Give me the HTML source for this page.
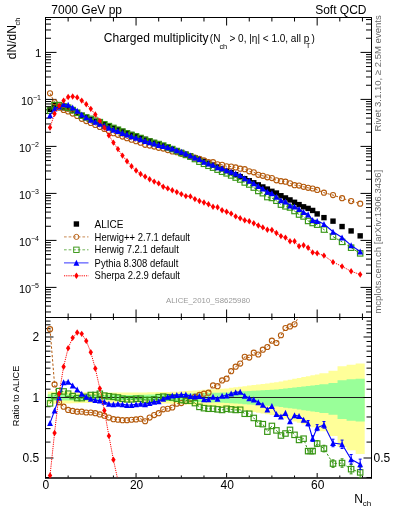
<!DOCTYPE html>
<html><head><meta charset="utf-8"><style>
html,body{margin:0;padding:0;background:#fff;width:393px;height:512px;overflow:hidden}
svg{position:absolute;left:0;top:0;will-change:transform}
text{font-family:"Liberation Sans",sans-serif}
</style></head><body>
<svg width="393" height="512" viewBox="0 0 393 512">
<defs><clipPath id="ct"><rect x="45.5" y="17.5" width="326.0" height="300.0"/></clipPath><clipPath id="cr"><rect x="45.5" y="317.5" width="326.0" height="160.0"/></clipPath></defs>
<g clip-path="url(#cr)"><path d="M47.76,391.59 L52.29,391.59 L52.29,391.68 L56.82,391.68 L56.82,391.78 L61.35,391.78 L61.35,391.87 L65.88,391.87 L65.88,391.96 L70.40,391.96 L70.40,392.05 L74.93,392.05 L74.93,392.14 L79.46,392.14 L79.46,392.23 L83.99,392.23 L83.99,392.32 L88.51,392.32 L88.51,392.41 L93.04,392.41 L93.04,392.43 L97.57,392.43 L97.57,392.45 L102.10,392.45 L102.10,392.46 L106.62,392.46 L106.62,392.48 L111.15,392.48 L111.15,392.50 L115.68,392.50 L115.68,392.51 L120.21,392.51 L120.21,392.53 L124.74,392.53 L124.74,392.55 L129.26,392.55 L129.26,392.56 L133.79,392.56 L133.79,392.58 L138.32,392.58 L138.32,392.48 L142.85,392.48 L142.85,392.38 L147.38,392.38 L147.38,392.28 L151.90,392.28 L151.90,392.18 L156.43,392.18 L156.43,392.08 L160.96,392.08 L160.96,391.98 L165.49,391.98 L165.49,391.88 L170.01,391.88 L170.01,391.78 L174.54,391.78 L174.54,391.68 L179.07,391.68 L179.07,391.37 L183.60,391.37 L183.60,391.07 L188.12,391.07 L188.12,390.77 L192.65,390.77 L192.65,390.47 L197.18,390.47 L197.18,390.17 L201.71,390.17 L201.71,389.87 L206.24,389.87 L206.24,389.57 L210.76,389.57 L210.76,389.27 L215.29,389.27 L215.29,388.98 L219.82,388.98 L219.82,388.68 L224.35,388.68 L224.35,388.39 L228.88,388.39 L228.88,387.82 L233.40,387.82 L233.40,387.25 L237.93,387.25 L237.93,386.69 L242.46,386.69 L242.46,386.13 L246.99,386.13 L246.99,385.58 L251.51,385.58 L251.51,385.02 L256.04,385.02 L256.04,384.48 L260.57,384.48 L260.57,383.93 L265.10,383.93 L265.10,383.39 L269.62,383.39 L269.62,382.85 L274.15,382.85 L274.15,382.32 L278.68,382.32 L278.68,381.41 L283.21,381.41 L283.21,380.52 L287.74,380.52 L287.74,379.63 L292.26,379.63 L292.26,378.76 L296.79,378.76 L296.79,377.89 L301.32,377.89 L301.32,377.03 L305.85,377.03 L305.85,376.18 L310.38,376.18 L310.38,375.34 L314.90,375.34 L314.90,374.50 L319.43,374.50 L319.43,373.26 L328.49,373.26 L328.49,370.85 L337.54,370.85 L337.54,366.16 L346.60,366.16 L346.60,364.82 L355.65,364.82 L355.65,363.45 L364.71,363.45 L364.71,454.08 L355.65,454.08 L355.65,450.32 L346.60,450.32 L346.60,446.88 L337.54,446.88 L337.54,436.05 L328.49,436.05 L328.49,431.17 L319.43,431.17 L319.43,428.81 L314.90,428.81 L314.90,427.28 L310.38,427.28 L310.38,425.77 L305.85,425.77 L305.85,424.29 L301.32,424.29 L301.32,422.83 L296.79,422.83 L296.79,421.40 L292.26,421.40 L292.26,419.99 L287.74,419.99 L287.74,418.60 L283.21,418.60 L283.21,417.24 L278.68,417.24 L278.68,415.89 L274.15,415.89 L274.15,415.11 L269.62,415.11 L269.62,414.34 L265.10,414.34 L265.10,413.57 L260.57,413.57 L260.57,412.81 L256.04,412.81 L256.04,412.06 L251.51,412.06 L251.51,411.31 L246.99,411.31 L246.99,410.57 L242.46,410.57 L242.46,409.84 L237.93,409.84 L237.93,409.11 L233.40,409.11 L233.40,408.39 L228.88,408.39 L228.88,407.67 L224.35,407.67 L224.35,407.31 L219.82,407.31 L219.82,406.94 L215.29,406.94 L215.29,406.58 L210.76,406.58 L210.76,406.22 L206.24,406.22 L206.24,405.86 L201.71,405.86 L201.71,405.51 L197.18,405.51 L197.18,405.15 L192.65,405.15 L192.65,404.80 L188.12,404.80 L188.12,404.44 L183.60,404.44 L183.60,404.09 L179.07,404.09 L179.07,403.74 L174.54,403.74 L174.54,403.63 L170.01,403.63 L170.01,403.51 L165.49,403.51 L165.49,403.40 L160.96,403.40 L160.96,403.28 L156.43,403.28 L156.43,403.17 L151.90,403.17 L151.90,403.06 L147.38,403.06 L147.38,402.94 L142.85,402.94 L142.85,402.83 L138.32,402.83 L138.32,402.72 L133.79,402.72 L133.79,402.73 L129.26,402.73 L129.26,402.75 L124.74,402.75 L124.74,402.77 L120.21,402.77 L120.21,402.79 L115.68,402.79 L115.68,402.81 L111.15,402.81 L111.15,402.83 L106.62,402.83 L106.62,402.85 L102.10,402.85 L102.10,402.86 L97.57,402.86 L97.57,402.88 L93.04,402.88 L93.04,402.90 L88.51,402.90 L88.51,403.00 L83.99,403.00 L83.99,403.11 L79.46,403.11 L79.46,403.21 L74.93,403.21 L74.93,403.32 L70.40,403.32 L70.40,403.42 L65.88,403.42 L65.88,403.52 L61.35,403.52 L61.35,403.63 L56.82,403.63 L56.82,403.73 L52.29,403.73 L52.29,403.83 L47.76,403.83 Z" fill="#ffff99"/>
<path d="M47.76,394.33 L52.29,394.33 L52.29,394.39 L56.82,394.39 L56.82,394.46 L61.35,394.46 L61.35,394.53 L65.88,394.53 L65.88,394.59 L70.40,394.59 L70.40,394.66 L74.93,394.66 L74.93,394.72 L79.46,394.72 L79.46,394.79 L83.99,394.79 L83.99,394.85 L88.51,394.85 L88.51,394.92 L93.04,394.92 L93.04,394.93 L97.57,394.93 L97.57,394.94 L102.10,394.94 L102.10,394.95 L106.62,394.95 L106.62,394.95 L111.15,394.95 L111.15,394.96 L115.68,394.96 L115.68,394.97 L120.21,394.97 L120.21,394.98 L124.74,394.98 L124.74,394.99 L129.26,394.99 L129.26,395.00 L133.79,395.00 L133.79,395.00 L138.32,395.00 L138.32,394.87 L142.85,394.87 L142.85,394.74 L147.38,394.74 L147.38,394.61 L151.90,394.61 L151.90,394.48 L156.43,394.48 L156.43,394.35 L160.96,394.35 L160.96,394.22 L165.49,394.22 L165.49,394.09 L170.01,394.09 L170.01,393.96 L174.54,393.96 L174.54,393.82 L179.07,393.82 L179.07,393.70 L183.60,393.70 L183.60,393.57 L188.12,393.57 L188.12,393.44 L192.65,393.44 L192.65,393.31 L197.18,393.31 L197.18,393.18 L201.71,393.18 L201.71,393.05 L206.24,393.05 L206.24,392.92 L210.76,392.92 L210.76,392.80 L215.29,392.80 L215.29,392.67 L219.82,392.67 L219.82,392.54 L224.35,392.54 L224.35,392.41 L228.88,392.41 L228.88,392.14 L233.40,392.14 L233.40,391.86 L237.93,391.86 L237.93,391.59 L242.46,391.59 L242.46,391.31 L246.99,391.31 L246.99,391.04 L251.51,391.04 L251.51,390.77 L256.04,390.77 L256.04,390.50 L260.57,390.50 L260.57,390.23 L265.10,390.23 L265.10,389.96 L269.62,389.96 L269.62,389.69 L274.15,389.69 L274.15,389.42 L278.68,389.42 L278.68,388.92 L283.21,388.92 L283.21,388.42 L287.74,388.42 L287.74,387.93 L292.26,387.93 L292.26,387.44 L296.79,387.44 L296.79,386.95 L301.32,386.95 L301.32,386.47 L305.85,386.47 L305.85,385.99 L310.38,385.99 L310.38,385.51 L314.90,385.51 L314.90,385.03 L319.43,385.03 L319.43,384.32 L328.49,384.32 L328.49,383.05 L337.54,383.05 L337.54,380.28 L346.60,380.28 L346.60,379.22 L355.65,379.22 L355.65,378.65 L364.71,378.65 L364.71,421.57 L355.65,421.57 L355.65,420.66 L346.60,420.66 L346.60,418.97 L337.54,418.97 L337.54,414.82 L328.49,414.82 L328.49,413.03 L319.43,413.03 L319.43,412.05 L314.90,412.05 L314.90,411.41 L310.38,411.41 L310.38,410.77 L305.85,410.77 L305.85,410.13 L301.32,410.13 L301.32,409.50 L296.79,409.50 L296.79,408.87 L292.26,408.87 L292.26,408.25 L287.74,408.25 L287.74,407.63 L283.21,407.63 L283.21,407.02 L278.68,407.02 L278.68,406.41 L274.15,406.41 L274.15,406.08 L269.62,406.08 L269.62,405.76 L265.10,405.76 L265.10,405.44 L260.57,405.44 L260.57,405.12 L256.04,405.12 L256.04,404.80 L251.51,404.80 L251.51,404.48 L246.99,404.48 L246.99,404.16 L242.46,404.16 L242.46,403.84 L237.93,403.84 L237.93,403.53 L233.40,403.53 L233.40,403.21 L228.88,403.21 L228.88,402.90 L224.35,402.90 L224.35,402.76 L219.82,402.76 L219.82,402.61 L215.29,402.61 L215.29,402.47 L210.76,402.47 L210.76,402.33 L206.24,402.33 L206.24,402.19 L201.71,402.19 L201.71,402.04 L197.18,402.04 L197.18,401.90 L192.65,401.90 L192.65,401.76 L188.12,401.76 L188.12,401.62 L183.60,401.62 L183.60,401.48 L179.07,401.48 L179.07,401.34 L174.54,401.34 L174.54,401.19 L170.01,401.19 L170.01,401.05 L165.49,401.05 L165.49,400.91 L160.96,400.91 L160.96,400.77 L156.43,400.77 L156.43,400.63 L151.90,400.63 L151.90,400.49 L147.38,400.49 L147.38,400.35 L142.85,400.35 L142.85,400.21 L138.32,400.21 L138.32,400.07 L133.79,400.07 L133.79,400.08 L129.26,400.08 L129.26,400.09 L124.74,400.09 L124.74,400.10 L120.21,400.10 L120.21,400.10 L115.68,400.10 L115.68,400.11 L111.15,400.11 L111.15,400.12 L106.62,400.12 L106.62,400.13 L102.10,400.13 L102.10,400.14 L97.57,400.14 L97.57,400.15 L93.04,400.15 L93.04,400.16 L88.51,400.16 L88.51,400.23 L83.99,400.23 L83.99,400.30 L79.46,400.30 L79.46,400.37 L74.93,400.37 L74.93,400.44 L70.40,400.44 L70.40,400.51 L65.88,400.51 L65.88,400.58 L61.35,400.58 L61.35,400.65 L56.82,400.65 L56.82,400.72 L52.29,400.72 L52.29,400.79 L47.76,400.79 Z" fill="#99ff99"/>
<line x1="45.5" y1="397.50" x2="371.5" y2="397.50" stroke="#222" stroke-width="1"/></g>
<line x1="45.50" y1="17.00" x2="45.50" y2="478.30" stroke="#000" stroke-width="1.0" />
<line x1="371.50" y1="17.00" x2="371.50" y2="478.30" stroke="#000" stroke-width="1.0" />
<line x1="45.00" y1="17.50" x2="372.00" y2="17.50" stroke="#000" stroke-width="1.0" />
<line x1="45.00" y1="317.50" x2="372.00" y2="317.50" stroke="#000" stroke-width="1.15" />
<line x1="45.00" y1="478.00" x2="372.00" y2="478.00" stroke="#000" stroke-width="1.3" />
<line x1="45.50" y1="311.98" x2="51.00" y2="311.98" stroke="#000" stroke-width="1.0" />
<line x1="371.50" y1="311.98" x2="366.00" y2="311.98" stroke="#000" stroke-width="1.0" />
<line x1="45.50" y1="306.10" x2="51.00" y2="306.10" stroke="#000" stroke-width="1.0" />
<line x1="371.50" y1="306.10" x2="366.00" y2="306.10" stroke="#000" stroke-width="1.0" />
<line x1="45.50" y1="301.55" x2="51.00" y2="301.55" stroke="#000" stroke-width="1.0" />
<line x1="371.50" y1="301.55" x2="366.00" y2="301.55" stroke="#000" stroke-width="1.0" />
<line x1="45.50" y1="297.83" x2="51.00" y2="297.83" stroke="#000" stroke-width="1.0" />
<line x1="371.50" y1="297.83" x2="366.00" y2="297.83" stroke="#000" stroke-width="1.0" />
<line x1="45.50" y1="294.68" x2="51.00" y2="294.68" stroke="#000" stroke-width="1.0" />
<line x1="371.50" y1="294.68" x2="366.00" y2="294.68" stroke="#000" stroke-width="1.0" />
<line x1="45.50" y1="291.95" x2="51.00" y2="291.95" stroke="#000" stroke-width="1.0" />
<line x1="371.50" y1="291.95" x2="366.00" y2="291.95" stroke="#000" stroke-width="1.0" />
<line x1="45.50" y1="289.55" x2="51.00" y2="289.55" stroke="#000" stroke-width="1.0" />
<line x1="371.50" y1="289.55" x2="366.00" y2="289.55" stroke="#000" stroke-width="1.0" />
<line x1="45.50" y1="287.40" x2="56.50" y2="287.40" stroke="#000" stroke-width="1.0" />
<line x1="371.50" y1="287.40" x2="360.50" y2="287.40" stroke="#000" stroke-width="1.0" />
<line x1="45.50" y1="273.25" x2="51.00" y2="273.25" stroke="#000" stroke-width="1.0" />
<line x1="371.50" y1="273.25" x2="366.00" y2="273.25" stroke="#000" stroke-width="1.0" />
<line x1="45.50" y1="264.98" x2="51.00" y2="264.98" stroke="#000" stroke-width="1.0" />
<line x1="371.50" y1="264.98" x2="366.00" y2="264.98" stroke="#000" stroke-width="1.0" />
<line x1="45.50" y1="259.10" x2="51.00" y2="259.10" stroke="#000" stroke-width="1.0" />
<line x1="371.50" y1="259.10" x2="366.00" y2="259.10" stroke="#000" stroke-width="1.0" />
<line x1="45.50" y1="254.55" x2="51.00" y2="254.55" stroke="#000" stroke-width="1.0" />
<line x1="371.50" y1="254.55" x2="366.00" y2="254.55" stroke="#000" stroke-width="1.0" />
<line x1="45.50" y1="250.83" x2="51.00" y2="250.83" stroke="#000" stroke-width="1.0" />
<line x1="371.50" y1="250.83" x2="366.00" y2="250.83" stroke="#000" stroke-width="1.0" />
<line x1="45.50" y1="247.68" x2="51.00" y2="247.68" stroke="#000" stroke-width="1.0" />
<line x1="371.50" y1="247.68" x2="366.00" y2="247.68" stroke="#000" stroke-width="1.0" />
<line x1="45.50" y1="244.95" x2="51.00" y2="244.95" stroke="#000" stroke-width="1.0" />
<line x1="371.50" y1="244.95" x2="366.00" y2="244.95" stroke="#000" stroke-width="1.0" />
<line x1="45.50" y1="242.55" x2="51.00" y2="242.55" stroke="#000" stroke-width="1.0" />
<line x1="371.50" y1="242.55" x2="366.00" y2="242.55" stroke="#000" stroke-width="1.0" />
<line x1="45.50" y1="240.40" x2="56.50" y2="240.40" stroke="#000" stroke-width="1.0" />
<line x1="371.50" y1="240.40" x2="360.50" y2="240.40" stroke="#000" stroke-width="1.0" />
<line x1="45.50" y1="226.25" x2="51.00" y2="226.25" stroke="#000" stroke-width="1.0" />
<line x1="371.50" y1="226.25" x2="366.00" y2="226.25" stroke="#000" stroke-width="1.0" />
<line x1="45.50" y1="217.98" x2="51.00" y2="217.98" stroke="#000" stroke-width="1.0" />
<line x1="371.50" y1="217.98" x2="366.00" y2="217.98" stroke="#000" stroke-width="1.0" />
<line x1="45.50" y1="212.10" x2="51.00" y2="212.10" stroke="#000" stroke-width="1.0" />
<line x1="371.50" y1="212.10" x2="366.00" y2="212.10" stroke="#000" stroke-width="1.0" />
<line x1="45.50" y1="207.55" x2="51.00" y2="207.55" stroke="#000" stroke-width="1.0" />
<line x1="371.50" y1="207.55" x2="366.00" y2="207.55" stroke="#000" stroke-width="1.0" />
<line x1="45.50" y1="203.83" x2="51.00" y2="203.83" stroke="#000" stroke-width="1.0" />
<line x1="371.50" y1="203.83" x2="366.00" y2="203.83" stroke="#000" stroke-width="1.0" />
<line x1="45.50" y1="200.68" x2="51.00" y2="200.68" stroke="#000" stroke-width="1.0" />
<line x1="371.50" y1="200.68" x2="366.00" y2="200.68" stroke="#000" stroke-width="1.0" />
<line x1="45.50" y1="197.95" x2="51.00" y2="197.95" stroke="#000" stroke-width="1.0" />
<line x1="371.50" y1="197.95" x2="366.00" y2="197.95" stroke="#000" stroke-width="1.0" />
<line x1="45.50" y1="195.55" x2="51.00" y2="195.55" stroke="#000" stroke-width="1.0" />
<line x1="371.50" y1="195.55" x2="366.00" y2="195.55" stroke="#000" stroke-width="1.0" />
<line x1="45.50" y1="193.40" x2="56.50" y2="193.40" stroke="#000" stroke-width="1.0" />
<line x1="371.50" y1="193.40" x2="360.50" y2="193.40" stroke="#000" stroke-width="1.0" />
<line x1="45.50" y1="179.25" x2="51.00" y2="179.25" stroke="#000" stroke-width="1.0" />
<line x1="371.50" y1="179.25" x2="366.00" y2="179.25" stroke="#000" stroke-width="1.0" />
<line x1="45.50" y1="170.98" x2="51.00" y2="170.98" stroke="#000" stroke-width="1.0" />
<line x1="371.50" y1="170.98" x2="366.00" y2="170.98" stroke="#000" stroke-width="1.0" />
<line x1="45.50" y1="165.10" x2="51.00" y2="165.10" stroke="#000" stroke-width="1.0" />
<line x1="371.50" y1="165.10" x2="366.00" y2="165.10" stroke="#000" stroke-width="1.0" />
<line x1="45.50" y1="160.55" x2="51.00" y2="160.55" stroke="#000" stroke-width="1.0" />
<line x1="371.50" y1="160.55" x2="366.00" y2="160.55" stroke="#000" stroke-width="1.0" />
<line x1="45.50" y1="156.83" x2="51.00" y2="156.83" stroke="#000" stroke-width="1.0" />
<line x1="371.50" y1="156.83" x2="366.00" y2="156.83" stroke="#000" stroke-width="1.0" />
<line x1="45.50" y1="153.68" x2="51.00" y2="153.68" stroke="#000" stroke-width="1.0" />
<line x1="371.50" y1="153.68" x2="366.00" y2="153.68" stroke="#000" stroke-width="1.0" />
<line x1="45.50" y1="150.95" x2="51.00" y2="150.95" stroke="#000" stroke-width="1.0" />
<line x1="371.50" y1="150.95" x2="366.00" y2="150.95" stroke="#000" stroke-width="1.0" />
<line x1="45.50" y1="148.55" x2="51.00" y2="148.55" stroke="#000" stroke-width="1.0" />
<line x1="371.50" y1="148.55" x2="366.00" y2="148.55" stroke="#000" stroke-width="1.0" />
<line x1="45.50" y1="146.40" x2="56.50" y2="146.40" stroke="#000" stroke-width="1.0" />
<line x1="371.50" y1="146.40" x2="360.50" y2="146.40" stroke="#000" stroke-width="1.0" />
<line x1="45.50" y1="132.25" x2="51.00" y2="132.25" stroke="#000" stroke-width="1.0" />
<line x1="371.50" y1="132.25" x2="366.00" y2="132.25" stroke="#000" stroke-width="1.0" />
<line x1="45.50" y1="123.98" x2="51.00" y2="123.98" stroke="#000" stroke-width="1.0" />
<line x1="371.50" y1="123.98" x2="366.00" y2="123.98" stroke="#000" stroke-width="1.0" />
<line x1="45.50" y1="118.10" x2="51.00" y2="118.10" stroke="#000" stroke-width="1.0" />
<line x1="371.50" y1="118.10" x2="366.00" y2="118.10" stroke="#000" stroke-width="1.0" />
<line x1="45.50" y1="113.55" x2="51.00" y2="113.55" stroke="#000" stroke-width="1.0" />
<line x1="371.50" y1="113.55" x2="366.00" y2="113.55" stroke="#000" stroke-width="1.0" />
<line x1="45.50" y1="109.83" x2="51.00" y2="109.83" stroke="#000" stroke-width="1.0" />
<line x1="371.50" y1="109.83" x2="366.00" y2="109.83" stroke="#000" stroke-width="1.0" />
<line x1="45.50" y1="106.68" x2="51.00" y2="106.68" stroke="#000" stroke-width="1.0" />
<line x1="371.50" y1="106.68" x2="366.00" y2="106.68" stroke="#000" stroke-width="1.0" />
<line x1="45.50" y1="103.95" x2="51.00" y2="103.95" stroke="#000" stroke-width="1.0" />
<line x1="371.50" y1="103.95" x2="366.00" y2="103.95" stroke="#000" stroke-width="1.0" />
<line x1="45.50" y1="101.55" x2="51.00" y2="101.55" stroke="#000" stroke-width="1.0" />
<line x1="371.50" y1="101.55" x2="366.00" y2="101.55" stroke="#000" stroke-width="1.0" />
<line x1="45.50" y1="99.40" x2="56.50" y2="99.40" stroke="#000" stroke-width="1.0" />
<line x1="371.50" y1="99.40" x2="360.50" y2="99.40" stroke="#000" stroke-width="1.0" />
<line x1="45.50" y1="85.25" x2="51.00" y2="85.25" stroke="#000" stroke-width="1.0" />
<line x1="371.50" y1="85.25" x2="366.00" y2="85.25" stroke="#000" stroke-width="1.0" />
<line x1="45.50" y1="76.98" x2="51.00" y2="76.98" stroke="#000" stroke-width="1.0" />
<line x1="371.50" y1="76.98" x2="366.00" y2="76.98" stroke="#000" stroke-width="1.0" />
<line x1="45.50" y1="71.10" x2="51.00" y2="71.10" stroke="#000" stroke-width="1.0" />
<line x1="371.50" y1="71.10" x2="366.00" y2="71.10" stroke="#000" stroke-width="1.0" />
<line x1="45.50" y1="66.55" x2="51.00" y2="66.55" stroke="#000" stroke-width="1.0" />
<line x1="371.50" y1="66.55" x2="366.00" y2="66.55" stroke="#000" stroke-width="1.0" />
<line x1="45.50" y1="62.83" x2="51.00" y2="62.83" stroke="#000" stroke-width="1.0" />
<line x1="371.50" y1="62.83" x2="366.00" y2="62.83" stroke="#000" stroke-width="1.0" />
<line x1="45.50" y1="59.68" x2="51.00" y2="59.68" stroke="#000" stroke-width="1.0" />
<line x1="371.50" y1="59.68" x2="366.00" y2="59.68" stroke="#000" stroke-width="1.0" />
<line x1="45.50" y1="56.95" x2="51.00" y2="56.95" stroke="#000" stroke-width="1.0" />
<line x1="371.50" y1="56.95" x2="366.00" y2="56.95" stroke="#000" stroke-width="1.0" />
<line x1="45.50" y1="54.55" x2="51.00" y2="54.55" stroke="#000" stroke-width="1.0" />
<line x1="371.50" y1="54.55" x2="366.00" y2="54.55" stroke="#000" stroke-width="1.0" />
<line x1="45.50" y1="52.40" x2="56.50" y2="52.40" stroke="#000" stroke-width="1.0" />
<line x1="371.50" y1="52.40" x2="360.50" y2="52.40" stroke="#000" stroke-width="1.0" />
<line x1="45.50" y1="38.25" x2="51.00" y2="38.25" stroke="#000" stroke-width="1.0" />
<line x1="371.50" y1="38.25" x2="366.00" y2="38.25" stroke="#000" stroke-width="1.0" />
<line x1="45.50" y1="29.98" x2="51.00" y2="29.98" stroke="#000" stroke-width="1.0" />
<line x1="371.50" y1="29.98" x2="366.00" y2="29.98" stroke="#000" stroke-width="1.0" />
<line x1="45.50" y1="24.10" x2="51.00" y2="24.10" stroke="#000" stroke-width="1.0" />
<line x1="371.50" y1="24.10" x2="366.00" y2="24.10" stroke="#000" stroke-width="1.0" />
<line x1="45.50" y1="19.55" x2="51.00" y2="19.55" stroke="#000" stroke-width="1.0" />
<line x1="371.50" y1="19.55" x2="366.00" y2="19.55" stroke="#000" stroke-width="1.0" />
<line x1="68.14" y1="17.50" x2="68.14" y2="21.50" stroke="#000" stroke-width="1.0" />
<line x1="68.14" y1="317.50" x2="68.14" y2="313.50" stroke="#000" stroke-width="1.0" />
<line x1="68.14" y1="317.50" x2="68.14" y2="320.00" stroke="#000" stroke-width="1.0" />
<line x1="68.14" y1="477.50" x2="68.14" y2="475.50" stroke="#000" stroke-width="1.0" />
<line x1="90.78" y1="17.50" x2="90.78" y2="21.50" stroke="#000" stroke-width="1.0" />
<line x1="90.78" y1="317.50" x2="90.78" y2="313.50" stroke="#000" stroke-width="1.0" />
<line x1="90.78" y1="317.50" x2="90.78" y2="320.00" stroke="#000" stroke-width="1.0" />
<line x1="90.78" y1="477.50" x2="90.78" y2="475.50" stroke="#000" stroke-width="1.0" />
<line x1="113.42" y1="17.50" x2="113.42" y2="21.50" stroke="#000" stroke-width="1.0" />
<line x1="113.42" y1="317.50" x2="113.42" y2="313.50" stroke="#000" stroke-width="1.0" />
<line x1="113.42" y1="317.50" x2="113.42" y2="320.00" stroke="#000" stroke-width="1.0" />
<line x1="113.42" y1="477.50" x2="113.42" y2="475.50" stroke="#000" stroke-width="1.0" />
<line x1="136.06" y1="17.50" x2="136.06" y2="25.50" stroke="#000" stroke-width="1.0" />
<line x1="136.06" y1="317.50" x2="136.06" y2="309.50" stroke="#000" stroke-width="1.0" />
<line x1="136.06" y1="317.50" x2="136.06" y2="322.50" stroke="#000" stroke-width="1.0" />
<line x1="136.06" y1="477.50" x2="136.06" y2="473.00" stroke="#000" stroke-width="1.0" />
<line x1="158.69" y1="17.50" x2="158.69" y2="21.50" stroke="#000" stroke-width="1.0" />
<line x1="158.69" y1="317.50" x2="158.69" y2="313.50" stroke="#000" stroke-width="1.0" />
<line x1="158.69" y1="317.50" x2="158.69" y2="320.00" stroke="#000" stroke-width="1.0" />
<line x1="158.69" y1="477.50" x2="158.69" y2="475.50" stroke="#000" stroke-width="1.0" />
<line x1="181.33" y1="17.50" x2="181.33" y2="21.50" stroke="#000" stroke-width="1.0" />
<line x1="181.33" y1="317.50" x2="181.33" y2="313.50" stroke="#000" stroke-width="1.0" />
<line x1="181.33" y1="317.50" x2="181.33" y2="320.00" stroke="#000" stroke-width="1.0" />
<line x1="181.33" y1="477.50" x2="181.33" y2="475.50" stroke="#000" stroke-width="1.0" />
<line x1="203.97" y1="17.50" x2="203.97" y2="21.50" stroke="#000" stroke-width="1.0" />
<line x1="203.97" y1="317.50" x2="203.97" y2="313.50" stroke="#000" stroke-width="1.0" />
<line x1="203.97" y1="317.50" x2="203.97" y2="320.00" stroke="#000" stroke-width="1.0" />
<line x1="203.97" y1="477.50" x2="203.97" y2="475.50" stroke="#000" stroke-width="1.0" />
<line x1="226.61" y1="17.50" x2="226.61" y2="25.50" stroke="#000" stroke-width="1.0" />
<line x1="226.61" y1="317.50" x2="226.61" y2="309.50" stroke="#000" stroke-width="1.0" />
<line x1="226.61" y1="317.50" x2="226.61" y2="322.50" stroke="#000" stroke-width="1.0" />
<line x1="226.61" y1="477.50" x2="226.61" y2="473.00" stroke="#000" stroke-width="1.0" />
<line x1="249.25" y1="17.50" x2="249.25" y2="21.50" stroke="#000" stroke-width="1.0" />
<line x1="249.25" y1="317.50" x2="249.25" y2="313.50" stroke="#000" stroke-width="1.0" />
<line x1="249.25" y1="317.50" x2="249.25" y2="320.00" stroke="#000" stroke-width="1.0" />
<line x1="249.25" y1="477.50" x2="249.25" y2="475.50" stroke="#000" stroke-width="1.0" />
<line x1="271.89" y1="17.50" x2="271.89" y2="21.50" stroke="#000" stroke-width="1.0" />
<line x1="271.89" y1="317.50" x2="271.89" y2="313.50" stroke="#000" stroke-width="1.0" />
<line x1="271.89" y1="317.50" x2="271.89" y2="320.00" stroke="#000" stroke-width="1.0" />
<line x1="271.89" y1="477.50" x2="271.89" y2="475.50" stroke="#000" stroke-width="1.0" />
<line x1="294.53" y1="17.50" x2="294.53" y2="21.50" stroke="#000" stroke-width="1.0" />
<line x1="294.53" y1="317.50" x2="294.53" y2="313.50" stroke="#000" stroke-width="1.0" />
<line x1="294.53" y1="317.50" x2="294.53" y2="320.00" stroke="#000" stroke-width="1.0" />
<line x1="294.53" y1="477.50" x2="294.53" y2="475.50" stroke="#000" stroke-width="1.0" />
<line x1="317.17" y1="17.50" x2="317.17" y2="25.50" stroke="#000" stroke-width="1.0" />
<line x1="317.17" y1="317.50" x2="317.17" y2="309.50" stroke="#000" stroke-width="1.0" />
<line x1="317.17" y1="317.50" x2="317.17" y2="322.50" stroke="#000" stroke-width="1.0" />
<line x1="317.17" y1="477.50" x2="317.17" y2="473.00" stroke="#000" stroke-width="1.0" />
<line x1="339.81" y1="17.50" x2="339.81" y2="21.50" stroke="#000" stroke-width="1.0" />
<line x1="339.81" y1="317.50" x2="339.81" y2="313.50" stroke="#000" stroke-width="1.0" />
<line x1="339.81" y1="317.50" x2="339.81" y2="320.00" stroke="#000" stroke-width="1.0" />
<line x1="339.81" y1="477.50" x2="339.81" y2="475.50" stroke="#000" stroke-width="1.0" />
<line x1="362.44" y1="17.50" x2="362.44" y2="21.50" stroke="#000" stroke-width="1.0" />
<line x1="362.44" y1="317.50" x2="362.44" y2="313.50" stroke="#000" stroke-width="1.0" />
<line x1="362.44" y1="317.50" x2="362.44" y2="320.00" stroke="#000" stroke-width="1.0" />
<line x1="362.44" y1="477.50" x2="362.44" y2="475.50" stroke="#000" stroke-width="1.0" />
<line x1="45.50" y1="477.49" x2="50.50" y2="477.49" stroke="#000" stroke-width="1.0" />
<line x1="371.50" y1="477.49" x2="366.50" y2="477.49" stroke="#000" stroke-width="1.0" />
<line x1="45.50" y1="458.01" x2="53.50" y2="458.01" stroke="#000" stroke-width="1.0" />
<line x1="371.50" y1="458.01" x2="363.50" y2="458.01" stroke="#000" stroke-width="1.0" />
<line x1="45.50" y1="442.09" x2="50.50" y2="442.09" stroke="#000" stroke-width="1.0" />
<line x1="371.50" y1="442.09" x2="366.50" y2="442.09" stroke="#000" stroke-width="1.0" />
<line x1="45.50" y1="428.64" x2="50.50" y2="428.64" stroke="#000" stroke-width="1.0" />
<line x1="371.50" y1="428.64" x2="366.50" y2="428.64" stroke="#000" stroke-width="1.0" />
<line x1="45.50" y1="416.98" x2="50.50" y2="416.98" stroke="#000" stroke-width="1.0" />
<line x1="371.50" y1="416.98" x2="366.50" y2="416.98" stroke="#000" stroke-width="1.0" />
<line x1="45.50" y1="406.70" x2="50.50" y2="406.70" stroke="#000" stroke-width="1.0" />
<line x1="371.50" y1="406.70" x2="366.50" y2="406.70" stroke="#000" stroke-width="1.0" />
<line x1="45.50" y1="397.50" x2="53.50" y2="397.50" stroke="#000" stroke-width="1.0" />
<line x1="371.50" y1="397.50" x2="363.50" y2="397.50" stroke="#000" stroke-width="1.0" />
<line x1="45.50" y1="389.18" x2="50.50" y2="389.18" stroke="#000" stroke-width="1.0" />
<line x1="371.50" y1="389.18" x2="366.50" y2="389.18" stroke="#000" stroke-width="1.0" />
<line x1="45.50" y1="381.58" x2="50.50" y2="381.58" stroke="#000" stroke-width="1.0" />
<line x1="371.50" y1="381.58" x2="366.50" y2="381.58" stroke="#000" stroke-width="1.0" />
<line x1="45.50" y1="374.60" x2="50.50" y2="374.60" stroke="#000" stroke-width="1.0" />
<line x1="371.50" y1="374.60" x2="366.50" y2="374.60" stroke="#000" stroke-width="1.0" />
<line x1="45.50" y1="368.13" x2="50.50" y2="368.13" stroke="#000" stroke-width="1.0" />
<line x1="371.50" y1="368.13" x2="366.50" y2="368.13" stroke="#000" stroke-width="1.0" />
<line x1="45.50" y1="362.11" x2="50.50" y2="362.11" stroke="#000" stroke-width="1.0" />
<line x1="371.50" y1="362.11" x2="366.50" y2="362.11" stroke="#000" stroke-width="1.0" />
<line x1="45.50" y1="356.47" x2="50.50" y2="356.47" stroke="#000" stroke-width="1.0" />
<line x1="371.50" y1="356.47" x2="366.50" y2="356.47" stroke="#000" stroke-width="1.0" />
<line x1="45.50" y1="351.18" x2="50.50" y2="351.18" stroke="#000" stroke-width="1.0" />
<line x1="371.50" y1="351.18" x2="366.50" y2="351.18" stroke="#000" stroke-width="1.0" />
<line x1="45.50" y1="346.19" x2="50.50" y2="346.19" stroke="#000" stroke-width="1.0" />
<line x1="371.50" y1="346.19" x2="366.50" y2="346.19" stroke="#000" stroke-width="1.0" />
<line x1="45.50" y1="341.47" x2="50.50" y2="341.47" stroke="#000" stroke-width="1.0" />
<line x1="371.50" y1="341.47" x2="366.50" y2="341.47" stroke="#000" stroke-width="1.0" />
<line x1="45.50" y1="336.99" x2="53.50" y2="336.99" stroke="#000" stroke-width="1.0" />
<line x1="371.50" y1="336.99" x2="363.50" y2="336.99" stroke="#000" stroke-width="1.0" />
<line x1="45.50" y1="332.73" x2="50.50" y2="332.73" stroke="#000" stroke-width="1.0" />
<line x1="371.50" y1="332.73" x2="366.50" y2="332.73" stroke="#000" stroke-width="1.0" />
<line x1="45.50" y1="328.67" x2="50.50" y2="328.67" stroke="#000" stroke-width="1.0" />
<line x1="371.50" y1="328.67" x2="366.50" y2="328.67" stroke="#000" stroke-width="1.0" />
<line x1="45.50" y1="324.79" x2="50.50" y2="324.79" stroke="#000" stroke-width="1.0" />
<line x1="371.50" y1="324.79" x2="366.50" y2="324.79" stroke="#000" stroke-width="1.0" />
<line x1="45.50" y1="321.08" x2="50.50" y2="321.08" stroke="#000" stroke-width="1.0" />
<line x1="371.50" y1="321.08" x2="366.50" y2="321.08" stroke="#000" stroke-width="1.0" />
<line x1="45.50" y1="317.51" x2="50.50" y2="317.51" stroke="#000" stroke-width="1.0" />
<line x1="371.50" y1="317.51" x2="366.50" y2="317.51" stroke="#000" stroke-width="1.0" />
<g clip-path="url(#ct)">
<rect x="47.33" y="106.60" width="5.40" height="5.40" fill="#000"/>
<rect x="51.86" y="102.70" width="5.40" height="5.40" fill="#000"/>
<rect x="56.38" y="103.90" width="5.40" height="5.40" fill="#000"/>
<rect x="60.91" y="105.10" width="5.40" height="5.40" fill="#000"/>
<rect x="65.44" y="105.90" width="5.40" height="5.40" fill="#000"/>
<rect x="69.97" y="107.70" width="5.40" height="5.40" fill="#000"/>
<rect x="74.49" y="109.90" width="5.40" height="5.40" fill="#000"/>
<rect x="79.02" y="112.80" width="5.40" height="5.40" fill="#000"/>
<rect x="83.55" y="114.83" width="5.40" height="5.40" fill="#000"/>
<rect x="88.08" y="116.75" width="5.40" height="5.40" fill="#000"/>
<rect x="92.61" y="118.55" width="5.40" height="5.40" fill="#000"/>
<rect x="97.13" y="120.30" width="5.40" height="5.40" fill="#000"/>
<rect x="101.66" y="122.02" width="5.40" height="5.40" fill="#000"/>
<rect x="106.19" y="123.70" width="5.40" height="5.40" fill="#000"/>
<rect x="110.72" y="125.36" width="5.40" height="5.40" fill="#000"/>
<rect x="115.24" y="127.00" width="5.40" height="5.40" fill="#000"/>
<rect x="119.77" y="128.62" width="5.40" height="5.40" fill="#000"/>
<rect x="124.30" y="130.22" width="5.40" height="5.40" fill="#000"/>
<rect x="128.83" y="131.82" width="5.40" height="5.40" fill="#000"/>
<rect x="133.36" y="133.42" width="5.40" height="5.40" fill="#000"/>
<rect x="137.88" y="135.01" width="5.40" height="5.40" fill="#000"/>
<rect x="142.41" y="136.61" width="5.40" height="5.40" fill="#000"/>
<rect x="146.94" y="138.21" width="5.40" height="5.40" fill="#000"/>
<rect x="151.47" y="139.82" width="5.40" height="5.40" fill="#000"/>
<rect x="155.99" y="141.44" width="5.40" height="5.40" fill="#000"/>
<rect x="160.52" y="143.07" width="5.40" height="5.40" fill="#000"/>
<rect x="165.05" y="144.72" width="5.40" height="5.40" fill="#000"/>
<rect x="169.58" y="146.39" width="5.40" height="5.40" fill="#000"/>
<rect x="174.11" y="148.07" width="5.40" height="5.40" fill="#000"/>
<rect x="178.63" y="149.77" width="5.40" height="5.40" fill="#000"/>
<rect x="183.16" y="151.49" width="5.40" height="5.40" fill="#000"/>
<rect x="187.69" y="153.23" width="5.40" height="5.40" fill="#000"/>
<rect x="192.22" y="155.00" width="5.40" height="5.40" fill="#000"/>
<rect x="196.74" y="156.79" width="5.40" height="5.40" fill="#000"/>
<rect x="201.27" y="158.60" width="5.40" height="5.40" fill="#000"/>
<rect x="205.80" y="160.43" width="5.40" height="5.40" fill="#000"/>
<rect x="210.33" y="162.29" width="5.40" height="5.40" fill="#000"/>
<rect x="214.86" y="164.18" width="5.40" height="5.40" fill="#000"/>
<rect x="219.38" y="166.08" width="5.40" height="5.40" fill="#000"/>
<rect x="223.91" y="168.01" width="5.40" height="5.40" fill="#000"/>
<rect x="228.44" y="169.97" width="5.40" height="5.40" fill="#000"/>
<rect x="232.97" y="171.94" width="5.40" height="5.40" fill="#000"/>
<rect x="237.49" y="173.94" width="5.40" height="5.40" fill="#000"/>
<rect x="242.02" y="175.96" width="5.40" height="5.40" fill="#000"/>
<rect x="246.55" y="178.01" width="5.40" height="5.40" fill="#000"/>
<rect x="251.08" y="180.07" width="5.40" height="5.40" fill="#000"/>
<rect x="255.61" y="182.16" width="5.40" height="5.40" fill="#000"/>
<rect x="260.13" y="184.26" width="5.40" height="5.40" fill="#000"/>
<rect x="264.66" y="186.38" width="5.40" height="5.40" fill="#000"/>
<rect x="269.19" y="188.61" width="5.40" height="5.40" fill="#000"/>
<rect x="273.72" y="190.34" width="5.40" height="5.40" fill="#000"/>
<rect x="278.24" y="193.03" width="5.40" height="5.40" fill="#000"/>
<rect x="282.77" y="195.23" width="5.40" height="5.40" fill="#000"/>
<rect x="287.30" y="197.23" width="5.40" height="5.40" fill="#000"/>
<rect x="291.83" y="199.59" width="5.40" height="5.40" fill="#000"/>
<rect x="296.36" y="201.91" width="5.40" height="5.40" fill="#000"/>
<rect x="300.88" y="204.13" width="5.40" height="5.40" fill="#000"/>
<rect x="305.41" y="205.72" width="5.40" height="5.40" fill="#000"/>
<rect x="309.94" y="207.75" width="5.40" height="5.40" fill="#000"/>
<rect x="314.47" y="211.20" width="5.40" height="5.40" fill="#000"/>
<rect x="321.26" y="214.93" width="5.40" height="5.40" fill="#000"/>
<rect x="330.31" y="218.45" width="5.40" height="5.40" fill="#000"/>
<rect x="339.37" y="223.85" width="5.40" height="5.40" fill="#000"/>
<rect x="348.43" y="228.22" width="5.40" height="5.40" fill="#000"/>
<rect x="357.48" y="233.17" width="5.40" height="5.40" fill="#000"/>
<polyline points="50.03,93.33 54.56,102.34 59.08,107.71 63.61,109.95 68.14,111.51 72.67,113.55 77.19,115.92 81.72,118.82 86.25,121.04 90.78,122.96 95.31,124.91 99.83,126.95 104.36,128.97 108.89,131.09 113.42,133.13 117.94,134.87 122.47,136.62 127.00,138.23 131.53,139.73 136.06,141.24 140.58,142.68 145.11,144.86 149.64,145.59 154.17,146.62 158.69,147.80 163.22,148.55 167.75,150.05 172.28,151.42 176.81,152.23 181.33,153.78 185.86,155.02 190.39,156.24 194.92,157.50 199.44,158.88 203.97,160.40 208.50,162.00 213.03,162.18 217.56,164.24 222.08,164.79 226.61,166.31 231.14,166.51 235.67,167.43 240.19,168.71 244.72,169.14 249.25,171.37 253.78,172.28 258.31,174.80 262.83,175.79 267.36,177.28 271.89,178.03 276.42,180.30 280.94,181.18 285.47,181.68 290.00,183.31 294.53,185.17 299.06,185.60 303.58,186.80 308.11,187.80 312.64,188.50 317.17,189.90 323.96,192.70 333.01,195.10 342.07,198.20 351.12,201.10 360.18,203.70" fill="none" stroke="#b45a0c" stroke-width="1" stroke-dasharray="2.4 1.9"/>
<circle cx="50.03" cy="93.33" r="2.55" fill="none" stroke="#b45a0c" stroke-width="1.1"/>
<circle cx="54.56" cy="102.34" r="2.55" fill="none" stroke="#b45a0c" stroke-width="1.1"/>
<circle cx="59.08" cy="107.71" r="2.55" fill="none" stroke="#b45a0c" stroke-width="1.1"/>
<circle cx="63.61" cy="109.95" r="2.55" fill="none" stroke="#b45a0c" stroke-width="1.1"/>
<circle cx="68.14" cy="111.51" r="2.55" fill="none" stroke="#b45a0c" stroke-width="1.1"/>
<circle cx="72.67" cy="113.55" r="2.55" fill="none" stroke="#b45a0c" stroke-width="1.1"/>
<circle cx="77.19" cy="115.92" r="2.55" fill="none" stroke="#b45a0c" stroke-width="1.1"/>
<circle cx="81.72" cy="118.82" r="2.55" fill="none" stroke="#b45a0c" stroke-width="1.1"/>
<circle cx="86.25" cy="121.04" r="2.55" fill="none" stroke="#b45a0c" stroke-width="1.1"/>
<circle cx="90.78" cy="122.96" r="2.55" fill="none" stroke="#b45a0c" stroke-width="1.1"/>
<circle cx="95.31" cy="124.91" r="2.55" fill="none" stroke="#b45a0c" stroke-width="1.1"/>
<circle cx="99.83" cy="126.95" r="2.55" fill="none" stroke="#b45a0c" stroke-width="1.1"/>
<circle cx="104.36" cy="128.97" r="2.55" fill="none" stroke="#b45a0c" stroke-width="1.1"/>
<circle cx="108.89" cy="131.09" r="2.55" fill="none" stroke="#b45a0c" stroke-width="1.1"/>
<circle cx="113.42" cy="133.13" r="2.55" fill="none" stroke="#b45a0c" stroke-width="1.1"/>
<circle cx="117.94" cy="134.87" r="2.55" fill="none" stroke="#b45a0c" stroke-width="1.1"/>
<circle cx="122.47" cy="136.62" r="2.55" fill="none" stroke="#b45a0c" stroke-width="1.1"/>
<circle cx="127.00" cy="138.23" r="2.55" fill="none" stroke="#b45a0c" stroke-width="1.1"/>
<circle cx="131.53" cy="139.73" r="2.55" fill="none" stroke="#b45a0c" stroke-width="1.1"/>
<circle cx="136.06" cy="141.24" r="2.55" fill="none" stroke="#b45a0c" stroke-width="1.1"/>
<circle cx="140.58" cy="142.68" r="2.55" fill="none" stroke="#b45a0c" stroke-width="1.1"/>
<circle cx="145.11" cy="144.86" r="2.55" fill="none" stroke="#b45a0c" stroke-width="1.1"/>
<circle cx="149.64" cy="145.59" r="2.55" fill="none" stroke="#b45a0c" stroke-width="1.1"/>
<circle cx="154.17" cy="146.62" r="2.55" fill="none" stroke="#b45a0c" stroke-width="1.1"/>
<circle cx="158.69" cy="147.80" r="2.55" fill="none" stroke="#b45a0c" stroke-width="1.1"/>
<circle cx="163.22" cy="148.55" r="2.55" fill="none" stroke="#b45a0c" stroke-width="1.1"/>
<circle cx="167.75" cy="150.05" r="2.55" fill="none" stroke="#b45a0c" stroke-width="1.1"/>
<circle cx="172.28" cy="151.42" r="2.55" fill="none" stroke="#b45a0c" stroke-width="1.1"/>
<circle cx="176.81" cy="152.23" r="2.55" fill="none" stroke="#b45a0c" stroke-width="1.1"/>
<circle cx="181.33" cy="153.78" r="2.55" fill="none" stroke="#b45a0c" stroke-width="1.1"/>
<circle cx="185.86" cy="155.02" r="2.55" fill="none" stroke="#b45a0c" stroke-width="1.1"/>
<circle cx="190.39" cy="156.24" r="2.55" fill="none" stroke="#b45a0c" stroke-width="1.1"/>
<circle cx="194.92" cy="157.50" r="2.55" fill="none" stroke="#b45a0c" stroke-width="1.1"/>
<circle cx="199.44" cy="158.88" r="2.55" fill="none" stroke="#b45a0c" stroke-width="1.1"/>
<circle cx="203.97" cy="160.40" r="2.55" fill="none" stroke="#b45a0c" stroke-width="1.1"/>
<circle cx="208.50" cy="162.00" r="2.55" fill="none" stroke="#b45a0c" stroke-width="1.1"/>
<circle cx="213.03" cy="162.18" r="2.55" fill="none" stroke="#b45a0c" stroke-width="1.1"/>
<circle cx="217.56" cy="164.24" r="2.55" fill="none" stroke="#b45a0c" stroke-width="1.1"/>
<circle cx="222.08" cy="164.79" r="2.55" fill="none" stroke="#b45a0c" stroke-width="1.1"/>
<circle cx="226.61" cy="166.31" r="2.55" fill="none" stroke="#b45a0c" stroke-width="1.1"/>
<circle cx="231.14" cy="166.51" r="2.55" fill="none" stroke="#b45a0c" stroke-width="1.1"/>
<circle cx="235.67" cy="167.43" r="2.55" fill="none" stroke="#b45a0c" stroke-width="1.1"/>
<circle cx="240.19" cy="168.71" r="2.55" fill="none" stroke="#b45a0c" stroke-width="1.1"/>
<circle cx="244.72" cy="169.14" r="2.55" fill="none" stroke="#b45a0c" stroke-width="1.1"/>
<circle cx="249.25" cy="171.37" r="2.55" fill="none" stroke="#b45a0c" stroke-width="1.1"/>
<circle cx="253.78" cy="172.28" r="2.55" fill="none" stroke="#b45a0c" stroke-width="1.1"/>
<circle cx="258.31" cy="174.80" r="2.55" fill="none" stroke="#b45a0c" stroke-width="1.1"/>
<circle cx="262.83" cy="175.79" r="2.55" fill="none" stroke="#b45a0c" stroke-width="1.1"/>
<circle cx="267.36" cy="177.28" r="2.55" fill="none" stroke="#b45a0c" stroke-width="1.1"/>
<circle cx="271.89" cy="178.03" r="2.55" fill="none" stroke="#b45a0c" stroke-width="1.1"/>
<circle cx="276.42" cy="180.30" r="2.55" fill="none" stroke="#b45a0c" stroke-width="1.1"/>
<circle cx="280.94" cy="181.18" r="2.55" fill="none" stroke="#b45a0c" stroke-width="1.1"/>
<circle cx="285.47" cy="181.68" r="2.55" fill="none" stroke="#b45a0c" stroke-width="1.1"/>
<circle cx="290.00" cy="183.31" r="2.55" fill="none" stroke="#b45a0c" stroke-width="1.1"/>
<circle cx="294.53" cy="185.17" r="2.55" fill="none" stroke="#b45a0c" stroke-width="1.1"/>
<circle cx="299.06" cy="185.60" r="2.55" fill="none" stroke="#b45a0c" stroke-width="1.1"/>
<circle cx="303.58" cy="186.80" r="2.55" fill="none" stroke="#b45a0c" stroke-width="1.1"/>
<circle cx="308.11" cy="187.80" r="2.55" fill="none" stroke="#b45a0c" stroke-width="1.1"/>
<circle cx="312.64" cy="188.50" r="2.55" fill="none" stroke="#b45a0c" stroke-width="1.1"/>
<circle cx="317.17" cy="189.90" r="2.55" fill="none" stroke="#b45a0c" stroke-width="1.1"/>
<circle cx="323.96" cy="192.70" r="2.55" fill="none" stroke="#b45a0c" stroke-width="1.1"/>
<circle cx="333.01" cy="195.10" r="2.55" fill="none" stroke="#b45a0c" stroke-width="1.1"/>
<circle cx="342.07" cy="198.20" r="2.55" fill="none" stroke="#b45a0c" stroke-width="1.1"/>
<circle cx="351.12" cy="201.10" r="2.55" fill="none" stroke="#b45a0c" stroke-width="1.1"/>
<circle cx="360.18" cy="203.70" r="2.55" fill="none" stroke="#b45a0c" stroke-width="1.1"/>
<polyline points="50.03,110.67 54.56,105.10 59.08,105.10 63.61,106.38 68.14,107.70 72.67,110.08 77.19,112.74 81.72,115.65 86.25,117.39 90.78,118.87 95.31,120.67 99.83,122.12 104.36,124.27 108.89,126.12 113.42,127.92 117.94,129.70 122.47,131.60 127.00,133.36 131.53,134.96 136.06,136.41 140.58,138.00 145.11,139.89 149.64,141.49 154.17,142.95 158.69,144.06 163.22,145.57 167.75,147.34 172.28,149.09 176.81,151.05 181.33,153.05 185.86,154.92 190.39,156.66 194.92,159.01 199.44,161.68 203.97,163.79 208.50,165.77 213.03,167.63 217.56,169.65 222.08,171.70 226.61,173.35 231.14,175.44 235.67,177.56 240.19,179.51 244.72,182.47 249.25,184.51 253.78,187.56 258.31,190.95 262.83,193.19 267.36,197.08 271.89,197.96 276.42,200.74 280.94,204.62 285.47,206.35 290.00,207.50 294.53,211.02 299.06,214.53 303.58,216.46 308.11,220.96 312.64,222.99 317.17,224.67 323.96,229.57 333.01,236.60 342.07,241.87 351.12,247.68 360.18,253.39" fill="none" stroke="#389615" stroke-width="1" stroke-dasharray="2.4 1.9"/>
<rect x="47.33" y="107.97" width="5.40" height="5.40" fill="none" stroke="#389615" stroke-width="1.15"/>
<rect x="51.86" y="102.40" width="5.40" height="5.40" fill="none" stroke="#389615" stroke-width="1.15"/>
<rect x="56.38" y="102.40" width="5.40" height="5.40" fill="none" stroke="#389615" stroke-width="1.15"/>
<rect x="60.91" y="103.68" width="5.40" height="5.40" fill="none" stroke="#389615" stroke-width="1.15"/>
<rect x="65.44" y="105.00" width="5.40" height="5.40" fill="none" stroke="#389615" stroke-width="1.15"/>
<rect x="69.97" y="107.38" width="5.40" height="5.40" fill="none" stroke="#389615" stroke-width="1.15"/>
<rect x="74.49" y="110.04" width="5.40" height="5.40" fill="none" stroke="#389615" stroke-width="1.15"/>
<rect x="79.02" y="112.95" width="5.40" height="5.40" fill="none" stroke="#389615" stroke-width="1.15"/>
<rect x="83.55" y="114.69" width="5.40" height="5.40" fill="none" stroke="#389615" stroke-width="1.15"/>
<rect x="88.08" y="116.17" width="5.40" height="5.40" fill="none" stroke="#389615" stroke-width="1.15"/>
<rect x="92.61" y="117.97" width="5.40" height="5.40" fill="none" stroke="#389615" stroke-width="1.15"/>
<rect x="97.13" y="119.42" width="5.40" height="5.40" fill="none" stroke="#389615" stroke-width="1.15"/>
<rect x="101.66" y="121.57" width="5.40" height="5.40" fill="none" stroke="#389615" stroke-width="1.15"/>
<rect x="106.19" y="123.42" width="5.40" height="5.40" fill="none" stroke="#389615" stroke-width="1.15"/>
<rect x="110.72" y="125.22" width="5.40" height="5.40" fill="none" stroke="#389615" stroke-width="1.15"/>
<rect x="115.24" y="127.00" width="5.40" height="5.40" fill="none" stroke="#389615" stroke-width="1.15"/>
<rect x="119.77" y="128.90" width="5.40" height="5.40" fill="none" stroke="#389615" stroke-width="1.15"/>
<rect x="124.30" y="130.66" width="5.40" height="5.40" fill="none" stroke="#389615" stroke-width="1.15"/>
<rect x="128.83" y="132.26" width="5.40" height="5.40" fill="none" stroke="#389615" stroke-width="1.15"/>
<rect x="133.36" y="133.71" width="5.40" height="5.40" fill="none" stroke="#389615" stroke-width="1.15"/>
<rect x="137.88" y="135.30" width="5.40" height="5.40" fill="none" stroke="#389615" stroke-width="1.15"/>
<rect x="142.41" y="137.19" width="5.40" height="5.40" fill="none" stroke="#389615" stroke-width="1.15"/>
<rect x="146.94" y="138.79" width="5.40" height="5.40" fill="none" stroke="#389615" stroke-width="1.15"/>
<rect x="151.47" y="140.25" width="5.40" height="5.40" fill="none" stroke="#389615" stroke-width="1.15"/>
<rect x="155.99" y="141.36" width="5.40" height="5.40" fill="none" stroke="#389615" stroke-width="1.15"/>
<rect x="160.52" y="142.87" width="5.40" height="5.40" fill="none" stroke="#389615" stroke-width="1.15"/>
<rect x="165.05" y="144.64" width="5.40" height="5.40" fill="none" stroke="#389615" stroke-width="1.15"/>
<rect x="169.58" y="146.39" width="5.40" height="5.40" fill="none" stroke="#389615" stroke-width="1.15"/>
<rect x="174.11" y="148.35" width="5.40" height="5.40" fill="none" stroke="#389615" stroke-width="1.15"/>
<rect x="178.63" y="150.35" width="5.40" height="5.40" fill="none" stroke="#389615" stroke-width="1.15"/>
<rect x="183.16" y="152.22" width="5.40" height="5.40" fill="none" stroke="#389615" stroke-width="1.15"/>
<rect x="187.69" y="153.96" width="5.40" height="5.40" fill="none" stroke="#389615" stroke-width="1.15"/>
<rect x="192.22" y="156.31" width="5.40" height="5.40" fill="none" stroke="#389615" stroke-width="1.15"/>
<rect x="196.74" y="158.98" width="5.40" height="5.40" fill="none" stroke="#389615" stroke-width="1.15"/>
<rect x="201.27" y="161.09" width="5.40" height="5.40" fill="none" stroke="#389615" stroke-width="1.15"/>
<rect x="205.80" y="163.07" width="5.40" height="5.40" fill="none" stroke="#389615" stroke-width="1.15"/>
<rect x="210.33" y="164.93" width="5.40" height="5.40" fill="none" stroke="#389615" stroke-width="1.15"/>
<rect x="214.86" y="166.95" width="5.40" height="5.40" fill="none" stroke="#389615" stroke-width="1.15"/>
<rect x="219.38" y="169.00" width="5.40" height="5.40" fill="none" stroke="#389615" stroke-width="1.15"/>
<rect x="223.91" y="170.65" width="5.40" height="5.40" fill="none" stroke="#389615" stroke-width="1.15"/>
<rect x="228.44" y="172.74" width="5.40" height="5.40" fill="none" stroke="#389615" stroke-width="1.15"/>
<rect x="232.97" y="174.86" width="5.40" height="5.40" fill="none" stroke="#389615" stroke-width="1.15"/>
<rect x="237.49" y="176.81" width="5.40" height="5.40" fill="none" stroke="#389615" stroke-width="1.15"/>
<rect x="242.02" y="179.77" width="5.40" height="5.40" fill="none" stroke="#389615" stroke-width="1.15"/>
<rect x="246.55" y="181.81" width="5.40" height="5.40" fill="none" stroke="#389615" stroke-width="1.15"/>
<rect x="251.08" y="184.86" width="5.40" height="5.40" fill="none" stroke="#389615" stroke-width="1.15"/>
<rect x="255.61" y="188.25" width="5.40" height="5.40" fill="none" stroke="#389615" stroke-width="1.15"/>
<rect x="260.13" y="190.49" width="5.40" height="5.40" fill="none" stroke="#389615" stroke-width="1.15"/>
<rect x="264.66" y="194.38" width="5.40" height="5.40" fill="none" stroke="#389615" stroke-width="1.15"/>
<rect x="269.19" y="195.26" width="5.40" height="5.40" fill="none" stroke="#389615" stroke-width="1.15"/>
<rect x="273.72" y="198.04" width="5.40" height="5.40" fill="none" stroke="#389615" stroke-width="1.15"/>
<rect x="278.24" y="201.92" width="5.40" height="5.40" fill="none" stroke="#389615" stroke-width="1.15"/>
<rect x="282.77" y="203.65" width="5.40" height="5.40" fill="none" stroke="#389615" stroke-width="1.15"/>
<rect x="287.30" y="204.80" width="5.40" height="5.40" fill="none" stroke="#389615" stroke-width="1.15"/>
<rect x="291.83" y="208.32" width="5.40" height="5.40" fill="none" stroke="#389615" stroke-width="1.15"/>
<rect x="296.36" y="211.83" width="5.40" height="5.40" fill="none" stroke="#389615" stroke-width="1.15"/>
<rect x="300.88" y="213.76" width="5.40" height="5.40" fill="none" stroke="#389615" stroke-width="1.15"/>
<rect x="305.41" y="218.26" width="5.40" height="5.40" fill="none" stroke="#389615" stroke-width="1.15"/>
<rect x="309.94" y="220.29" width="5.40" height="5.40" fill="none" stroke="#389615" stroke-width="1.15"/>
<rect x="314.47" y="221.97" width="5.40" height="5.40" fill="none" stroke="#389615" stroke-width="1.15"/>
<rect x="321.26" y="226.87" width="5.40" height="5.40" fill="none" stroke="#389615" stroke-width="1.15"/>
<rect x="330.31" y="233.90" width="5.40" height="5.40" fill="none" stroke="#389615" stroke-width="1.15"/>
<rect x="339.37" y="239.17" width="5.40" height="5.40" fill="none" stroke="#389615" stroke-width="1.15"/>
<rect x="348.43" y="244.98" width="5.40" height="5.40" fill="none" stroke="#389615" stroke-width="1.15"/>
<rect x="357.48" y="250.69" width="5.40" height="5.40" fill="none" stroke="#389615" stroke-width="1.15"/>
<polyline points="50.03,115.28 54.56,108.48 59.08,106.60 63.61,104.25 68.14,104.91 72.67,107.58 77.19,110.77 81.72,114.62 86.25,117.39 90.78,119.74 95.31,121.83 99.83,123.73 104.36,125.74 108.89,127.86 113.42,129.67 117.94,131.16 122.47,132.93 127.00,134.67 131.53,136.27 136.06,137.73 140.58,139.17 145.11,140.92 149.64,142.22 154.17,143.55 158.69,145.02 163.22,146.06 167.75,147.28 172.28,148.64 176.81,150.18 181.33,151.77 185.86,153.49 190.39,155.61 194.92,157.46 199.44,159.16 203.97,161.73 208.50,163.57 213.03,164.85 217.56,167.18 222.08,168.38 226.61,170.23 231.14,171.75 235.67,173.45 240.19,175.32 244.72,178.26 249.25,180.89 253.78,183.25 258.31,185.97 262.83,188.66 267.36,191.88 271.89,193.31 276.42,196.92 280.94,200.21 285.47,201.53 290.00,205.48 294.53,206.47 299.06,208.94 303.58,212.04 308.11,214.42 312.64,220.05 317.17,220.95 323.96,224.02 333.01,231.78 342.07,237.49 351.12,245.36 360.18,251.50" fill="none" stroke="#0000ff" stroke-width="1.1"/>
<path d="M50.03,112.23 L52.93,118.24 L47.13,118.24 Z" fill="#0000ff"/>
<path d="M54.56,105.42 L57.46,111.43 L51.66,111.43 Z" fill="#0000ff"/>
<path d="M59.08,103.55 L61.98,109.55 L56.18,109.55 Z" fill="#0000ff"/>
<path d="M63.61,101.19 L66.51,107.20 L60.71,107.20 Z" fill="#0000ff"/>
<path d="M68.14,101.86 L71.04,107.87 L65.24,107.87 Z" fill="#0000ff"/>
<path d="M72.67,104.53 L75.57,110.54 L69.77,110.54 Z" fill="#0000ff"/>
<path d="M77.19,107.71 L80.09,113.72 L74.29,113.72 Z" fill="#0000ff"/>
<path d="M81.72,111.57 L84.62,117.58 L78.82,117.58 Z" fill="#0000ff"/>
<path d="M86.25,114.33 L89.15,120.34 L83.35,120.34 Z" fill="#0000ff"/>
<path d="M90.78,116.69 L93.68,122.70 L87.88,122.70 Z" fill="#0000ff"/>
<path d="M95.31,118.78 L98.21,124.79 L92.41,124.79 Z" fill="#0000ff"/>
<path d="M99.83,120.68 L102.73,126.69 L96.93,126.69 Z" fill="#0000ff"/>
<path d="M104.36,122.69 L107.26,128.70 L101.46,128.70 Z" fill="#0000ff"/>
<path d="M108.89,124.81 L111.79,130.82 L105.99,130.82 Z" fill="#0000ff"/>
<path d="M113.42,126.62 L116.32,132.63 L110.52,132.63 Z" fill="#0000ff"/>
<path d="M117.94,128.10 L120.84,134.11 L115.04,134.11 Z" fill="#0000ff"/>
<path d="M122.47,129.87 L125.37,135.88 L119.57,135.88 Z" fill="#0000ff"/>
<path d="M127.00,131.61 L129.90,137.62 L124.10,137.62 Z" fill="#0000ff"/>
<path d="M131.53,133.21 L134.43,139.22 L128.63,139.22 Z" fill="#0000ff"/>
<path d="M136.06,134.68 L138.96,140.69 L133.16,140.69 Z" fill="#0000ff"/>
<path d="M140.58,136.12 L143.48,142.13 L137.68,142.13 Z" fill="#0000ff"/>
<path d="M145.11,137.87 L148.01,143.88 L142.21,143.88 Z" fill="#0000ff"/>
<path d="M149.64,139.16 L152.54,145.17 L146.74,145.17 Z" fill="#0000ff"/>
<path d="M154.17,140.49 L157.07,146.50 L151.27,146.50 Z" fill="#0000ff"/>
<path d="M158.69,141.96 L161.59,147.97 L155.79,147.97 Z" fill="#0000ff"/>
<path d="M163.22,143.01 L166.12,149.02 L160.32,149.02 Z" fill="#0000ff"/>
<path d="M167.75,144.22 L170.65,150.23 L164.85,150.23 Z" fill="#0000ff"/>
<path d="M172.28,145.59 L175.18,151.60 L169.38,151.60 Z" fill="#0000ff"/>
<path d="M176.81,147.13 L179.71,153.14 L173.91,153.14 Z" fill="#0000ff"/>
<path d="M181.33,148.71 L184.23,154.72 L178.43,154.72 Z" fill="#0000ff"/>
<path d="M185.86,150.43 L188.76,156.44 L182.96,156.44 Z" fill="#0000ff"/>
<path d="M190.39,152.55 L193.29,158.56 L187.49,158.56 Z" fill="#0000ff"/>
<path d="M194.92,154.40 L197.82,160.41 L192.02,160.41 Z" fill="#0000ff"/>
<path d="M199.44,156.11 L202.34,162.12 L196.54,162.12 Z" fill="#0000ff"/>
<path d="M203.97,158.68 L206.87,164.69 L201.07,164.69 Z" fill="#0000ff"/>
<path d="M208.50,160.51 L211.40,166.52 L205.60,166.52 Z" fill="#0000ff"/>
<path d="M213.03,161.80 L215.93,167.81 L210.13,167.81 Z" fill="#0000ff"/>
<path d="M217.56,164.13 L220.46,170.14 L214.66,170.14 Z" fill="#0000ff"/>
<path d="M222.08,165.32 L224.98,171.33 L219.18,171.33 Z" fill="#0000ff"/>
<path d="M226.61,167.17 L229.51,173.18 L223.71,173.18 Z" fill="#0000ff"/>
<path d="M231.14,168.69 L234.04,174.70 L228.24,174.70 Z" fill="#0000ff"/>
<path d="M235.67,170.40 L238.57,176.41 L232.77,176.41 Z" fill="#0000ff"/>
<path d="M240.19,172.26 L243.09,178.27 L237.29,178.27 Z" fill="#0000ff"/>
<path d="M244.72,175.21 L247.62,181.22 L241.82,181.22 Z" fill="#0000ff"/>
<path d="M249.25,177.84 L252.15,183.85 L246.35,183.85 Z" fill="#0000ff"/>
<path d="M253.78,180.19 L256.68,186.20 L250.88,186.20 Z" fill="#0000ff"/>
<path d="M258.31,182.91 L261.21,188.92 L255.41,188.92 Z" fill="#0000ff"/>
<path d="M262.83,185.61 L265.73,191.62 L259.93,191.62 Z" fill="#0000ff"/>
<path d="M267.36,188.83 L270.26,194.84 L264.46,194.84 Z" fill="#0000ff"/>
<path d="M271.89,190.25 L274.79,196.26 L268.99,196.26 Z" fill="#0000ff"/>
<path d="M276.42,193.86 L279.32,199.87 L273.52,199.87 Z" fill="#0000ff"/>
<path d="M280.94,197.15 L283.84,203.16 L278.04,203.16 Z" fill="#0000ff"/>
<path d="M285.47,198.48 L288.37,204.49 L282.57,204.49 Z" fill="#0000ff"/>
<path d="M290.00,202.42 L292.90,208.43 L287.10,208.43 Z" fill="#0000ff"/>
<path d="M294.53,203.41 L297.43,209.42 L291.63,209.42 Z" fill="#0000ff"/>
<path d="M299.06,205.88 L301.96,211.89 L296.16,211.89 Z" fill="#0000ff"/>
<path d="M303.58,208.98 L306.48,214.99 L300.68,214.99 Z" fill="#0000ff"/>
<path d="M308.11,211.37 L311.01,217.38 L305.21,217.38 Z" fill="#0000ff"/>
<path d="M312.64,216.99 L315.54,223.00 L309.74,223.00 Z" fill="#0000ff"/>
<path d="M317.17,217.89 L320.07,223.90 L314.27,223.90 Z" fill="#0000ff"/>
<path d="M323.96,220.97 L326.86,226.98 L321.06,226.98 Z" fill="#0000ff"/>
<path d="M333.01,228.73 L335.91,234.74 L330.11,234.74 Z" fill="#0000ff"/>
<path d="M342.07,234.44 L344.97,240.45 L339.17,240.45 Z" fill="#0000ff"/>
<path d="M351.12,242.30 L354.02,248.31 L348.23,248.31 Z" fill="#0000ff"/>
<path d="M360.18,248.45 L363.08,254.46 L357.28,254.46 Z" fill="#0000ff"/>
<polyline points="50.03,127.55 54.56,113.70 59.08,105.70 63.61,100.60 68.14,97.06 72.67,96.45 77.19,97.42 81.72,100.62 86.25,104.29 90.78,108.86 95.31,114.48 99.83,120.91 104.36,127.77 108.89,135.38 113.42,142.62 117.94,149.10 122.47,155.60 127.00,161.30 131.53,166.30 136.06,170.50 140.58,174.00 145.11,176.60 149.64,179.20 154.17,181.60 158.69,183.40 163.22,186.80 167.75,188.40 172.28,190.30 176.81,192.10 181.33,194.10 185.86,196.10 190.39,196.40 194.92,199.10 199.44,201.00 203.97,202.50 208.50,204.30 213.03,206.75 217.56,207.20 222.08,210.30 226.61,211.80 231.14,213.60 235.67,216.40 240.19,218.20 244.72,220.20 249.25,221.30 253.78,223.20 258.31,225.50 262.83,227.40 267.36,229.80 271.89,230.00 276.42,233.00 280.94,236.10 285.47,237.60 290.00,241.30 294.53,241.30 299.06,246.30 303.58,245.20 308.11,247.80 312.64,252.40 317.17,253.20 323.96,255.60 333.01,262.10 342.07,266.40 351.12,271.30 360.18,274.50" fill="none" stroke="#ff0000" stroke-width="1" stroke-dasharray="1.2 1"/>
<path d="M50.03,124.35 L52.23,127.55 L50.03,130.75 L47.83,127.55 Z" fill="#ff0000"/>
<path d="M54.56,110.50 L56.76,113.70 L54.56,116.90 L52.36,113.70 Z" fill="#ff0000"/>
<path d="M59.08,102.50 L61.28,105.70 L59.08,108.90 L56.88,105.70 Z" fill="#ff0000"/>
<path d="M63.61,97.40 L65.81,100.60 L63.61,103.80 L61.41,100.60 Z" fill="#ff0000"/>
<path d="M68.14,93.86 L70.34,97.06 L68.14,100.26 L65.94,97.06 Z" fill="#ff0000"/>
<path d="M72.67,93.25 L74.87,96.45 L72.67,99.65 L70.47,96.45 Z" fill="#ff0000"/>
<path d="M77.19,94.22 L79.39,97.42 L77.19,100.62 L74.99,97.42 Z" fill="#ff0000"/>
<path d="M81.72,97.42 L83.92,100.62 L81.72,103.82 L79.52,100.62 Z" fill="#ff0000"/>
<path d="M86.25,101.09 L88.45,104.29 L86.25,107.49 L84.05,104.29 Z" fill="#ff0000"/>
<path d="M90.78,105.66 L92.98,108.86 L90.78,112.06 L88.58,108.86 Z" fill="#ff0000"/>
<path d="M95.31,111.28 L97.51,114.48 L95.31,117.68 L93.11,114.48 Z" fill="#ff0000"/>
<path d="M99.83,117.71 L102.03,120.91 L99.83,124.11 L97.63,120.91 Z" fill="#ff0000"/>
<path d="M104.36,124.57 L106.56,127.77 L104.36,130.97 L102.16,127.77 Z" fill="#ff0000"/>
<path d="M108.89,132.18 L111.09,135.38 L108.89,138.58 L106.69,135.38 Z" fill="#ff0000"/>
<path d="M113.42,139.42 L115.62,142.62 L113.42,145.82 L111.22,142.62 Z" fill="#ff0000"/>
<path d="M117.94,145.90 L120.14,149.10 L117.94,152.30 L115.74,149.10 Z" fill="#ff0000"/>
<path d="M122.47,152.40 L124.67,155.60 L122.47,158.80 L120.27,155.60 Z" fill="#ff0000"/>
<path d="M127.00,158.10 L129.20,161.30 L127.00,164.50 L124.80,161.30 Z" fill="#ff0000"/>
<path d="M131.53,163.10 L133.73,166.30 L131.53,169.50 L129.33,166.30 Z" fill="#ff0000"/>
<path d="M136.06,167.30 L138.26,170.50 L136.06,173.70 L133.86,170.50 Z" fill="#ff0000"/>
<path d="M140.58,170.80 L142.78,174.00 L140.58,177.20 L138.38,174.00 Z" fill="#ff0000"/>
<path d="M145.11,173.40 L147.31,176.60 L145.11,179.80 L142.91,176.60 Z" fill="#ff0000"/>
<path d="M149.64,176.00 L151.84,179.20 L149.64,182.40 L147.44,179.20 Z" fill="#ff0000"/>
<path d="M154.17,178.40 L156.37,181.60 L154.17,184.80 L151.97,181.60 Z" fill="#ff0000"/>
<path d="M158.69,180.20 L160.89,183.40 L158.69,186.60 L156.49,183.40 Z" fill="#ff0000"/>
<path d="M163.22,183.60 L165.42,186.80 L163.22,190.00 L161.02,186.80 Z" fill="#ff0000"/>
<path d="M167.75,185.20 L169.95,188.40 L167.75,191.60 L165.55,188.40 Z" fill="#ff0000"/>
<path d="M172.28,187.10 L174.48,190.30 L172.28,193.50 L170.08,190.30 Z" fill="#ff0000"/>
<path d="M176.81,188.90 L179.01,192.10 L176.81,195.30 L174.61,192.10 Z" fill="#ff0000"/>
<path d="M181.33,190.90 L183.53,194.10 L181.33,197.30 L179.13,194.10 Z" fill="#ff0000"/>
<path d="M185.86,192.90 L188.06,196.10 L185.86,199.30 L183.66,196.10 Z" fill="#ff0000"/>
<path d="M190.39,193.20 L192.59,196.40 L190.39,199.60 L188.19,196.40 Z" fill="#ff0000"/>
<path d="M194.92,195.90 L197.12,199.10 L194.92,202.30 L192.72,199.10 Z" fill="#ff0000"/>
<path d="M199.44,197.80 L201.64,201.00 L199.44,204.20 L197.24,201.00 Z" fill="#ff0000"/>
<path d="M203.97,199.30 L206.17,202.50 L203.97,205.70 L201.77,202.50 Z" fill="#ff0000"/>
<path d="M208.50,201.10 L210.70,204.30 L208.50,207.50 L206.30,204.30 Z" fill="#ff0000"/>
<path d="M213.03,203.55 L215.23,206.75 L213.03,209.95 L210.83,206.75 Z" fill="#ff0000"/>
<path d="M217.56,204.00 L219.76,207.20 L217.56,210.40 L215.36,207.20 Z" fill="#ff0000"/>
<path d="M222.08,207.10 L224.28,210.30 L222.08,213.50 L219.88,210.30 Z" fill="#ff0000"/>
<path d="M226.61,208.60 L228.81,211.80 L226.61,215.00 L224.41,211.80 Z" fill="#ff0000"/>
<path d="M231.14,210.40 L233.34,213.60 L231.14,216.80 L228.94,213.60 Z" fill="#ff0000"/>
<path d="M235.67,213.20 L237.87,216.40 L235.67,219.60 L233.47,216.40 Z" fill="#ff0000"/>
<path d="M240.19,215.00 L242.39,218.20 L240.19,221.40 L237.99,218.20 Z" fill="#ff0000"/>
<path d="M244.72,217.00 L246.92,220.20 L244.72,223.40 L242.52,220.20 Z" fill="#ff0000"/>
<path d="M249.25,218.10 L251.45,221.30 L249.25,224.50 L247.05,221.30 Z" fill="#ff0000"/>
<path d="M253.78,220.00 L255.98,223.20 L253.78,226.40 L251.58,223.20 Z" fill="#ff0000"/>
<path d="M258.31,222.30 L260.51,225.50 L258.31,228.70 L256.11,225.50 Z" fill="#ff0000"/>
<path d="M262.83,224.20 L265.03,227.40 L262.83,230.60 L260.63,227.40 Z" fill="#ff0000"/>
<path d="M267.36,226.60 L269.56,229.80 L267.36,233.00 L265.16,229.80 Z" fill="#ff0000"/>
<path d="M271.89,226.80 L274.09,230.00 L271.89,233.20 L269.69,230.00 Z" fill="#ff0000"/>
<path d="M276.42,229.80 L278.62,233.00 L276.42,236.20 L274.22,233.00 Z" fill="#ff0000"/>
<path d="M280.94,232.90 L283.14,236.10 L280.94,239.30 L278.74,236.10 Z" fill="#ff0000"/>
<path d="M285.47,234.40 L287.67,237.60 L285.47,240.80 L283.27,237.60 Z" fill="#ff0000"/>
<path d="M290.00,238.10 L292.20,241.30 L290.00,244.50 L287.80,241.30 Z" fill="#ff0000"/>
<path d="M294.53,238.10 L296.73,241.30 L294.53,244.50 L292.33,241.30 Z" fill="#ff0000"/>
<path d="M299.06,243.10 L301.26,246.30 L299.06,249.50 L296.86,246.30 Z" fill="#ff0000"/>
<path d="M303.58,242.00 L305.78,245.20 L303.58,248.40 L301.38,245.20 Z" fill="#ff0000"/>
<path d="M308.11,244.60 L310.31,247.80 L308.11,251.00 L305.91,247.80 Z" fill="#ff0000"/>
<path d="M312.64,249.20 L314.84,252.40 L312.64,255.60 L310.44,252.40 Z" fill="#ff0000"/>
<path d="M317.17,250.00 L319.37,253.20 L317.17,256.40 L314.97,253.20 Z" fill="#ff0000"/>
<path d="M323.96,252.40 L326.16,255.60 L323.96,258.80 L321.76,255.60 Z" fill="#ff0000"/>
<path d="M333.01,258.90 L335.21,262.10 L333.01,265.30 L330.81,262.10 Z" fill="#ff0000"/>
<path d="M342.07,263.20 L344.27,266.40 L342.07,269.60 L339.87,266.40 Z" fill="#ff0000"/>
<path d="M351.12,268.10 L353.32,271.30 L351.12,274.50 L348.93,271.30 Z" fill="#ff0000"/>
<path d="M360.18,271.30 L362.38,274.50 L360.18,277.70 L357.98,274.50 Z" fill="#ff0000"/>
</g>
<g clip-path="url(#cr)"><polyline points="50.03,329.19 54.56,384.39 59.08,402.25 63.61,406.70 68.14,409.96 72.67,410.97 77.19,411.69 81.72,411.69 86.25,412.51 90.78,412.51 95.31,413.14 99.83,414.40 104.36,415.68 108.89,417.53 113.42,419.19 117.94,419.64 122.47,420.20 127.00,420.20 131.53,419.75 136.06,419.41 140.58,418.74 145.11,421.23 149.64,417.53 154.17,415.04 158.69,413.14 163.22,409.36 167.75,408.76 172.28,407.48 176.81,403.74 181.33,403.09 185.86,401.06 190.39,398.82 194.92,396.63 199.44,394.92 203.97,393.66 208.50,392.66 213.03,385.45 217.56,386.22 222.08,380.43 226.61,378.65 231.14,371.17 235.67,366.64 240.19,363.57 244.72,356.75 249.25,357.57 253.78,352.63 258.31,354.48 262.83,349.70 267.36,347.02 271.89,340.69 276.42,343.00 280.94,335.26 285.47,328.00 290.00,326.40 294.53,324.30 299.06,316.20 303.58,311.82 308.11,309.33 312.64,303.61 317.17,294.87 323.96,290.91 333.01,286.10 342.07,276.27 351.12,269.96 360.18,259.91" fill="none" stroke="#b45a0c" stroke-width="1" stroke-dasharray="2.4 1.9"/></g>
<circle cx="50.03" cy="329.19" r="2.55" fill="none" stroke="#b45a0c" stroke-width="1.1"/>
<circle cx="54.56" cy="384.39" r="2.55" fill="none" stroke="#b45a0c" stroke-width="1.1"/>
<circle cx="59.08" cy="402.25" r="2.55" fill="none" stroke="#b45a0c" stroke-width="1.1"/>
<circle cx="63.61" cy="406.70" r="2.55" fill="none" stroke="#b45a0c" stroke-width="1.1"/>
<circle cx="68.14" cy="409.96" r="2.55" fill="none" stroke="#b45a0c" stroke-width="1.1"/>
<circle cx="72.67" cy="410.97" r="2.55" fill="none" stroke="#b45a0c" stroke-width="1.1"/>
<circle cx="77.19" cy="411.69" r="2.55" fill="none" stroke="#b45a0c" stroke-width="1.1"/>
<circle cx="81.72" cy="411.69" r="2.55" fill="none" stroke="#b45a0c" stroke-width="1.1"/>
<circle cx="86.25" cy="412.51" r="2.55" fill="none" stroke="#b45a0c" stroke-width="1.1"/>
<circle cx="90.78" cy="412.51" r="2.55" fill="none" stroke="#b45a0c" stroke-width="1.1"/>
<circle cx="95.31" cy="413.14" r="2.55" fill="none" stroke="#b45a0c" stroke-width="1.1"/>
<circle cx="99.83" cy="414.40" r="2.55" fill="none" stroke="#b45a0c" stroke-width="1.1"/>
<circle cx="104.36" cy="415.68" r="2.55" fill="none" stroke="#b45a0c" stroke-width="1.1"/>
<circle cx="108.89" cy="417.53" r="2.55" fill="none" stroke="#b45a0c" stroke-width="1.1"/>
<circle cx="113.42" cy="419.19" r="2.55" fill="none" stroke="#b45a0c" stroke-width="1.1"/>
<circle cx="117.94" cy="419.64" r="2.55" fill="none" stroke="#b45a0c" stroke-width="1.1"/>
<circle cx="122.47" cy="420.20" r="2.55" fill="none" stroke="#b45a0c" stroke-width="1.1"/>
<circle cx="127.00" cy="420.20" r="2.55" fill="none" stroke="#b45a0c" stroke-width="1.1"/>
<circle cx="131.53" cy="419.75" r="2.55" fill="none" stroke="#b45a0c" stroke-width="1.1"/>
<circle cx="136.06" cy="419.41" r="2.55" fill="none" stroke="#b45a0c" stroke-width="1.1"/>
<circle cx="140.58" cy="418.74" r="2.55" fill="none" stroke="#b45a0c" stroke-width="1.1"/>
<circle cx="145.11" cy="421.23" r="2.55" fill="none" stroke="#b45a0c" stroke-width="1.1"/>
<circle cx="149.64" cy="417.53" r="2.55" fill="none" stroke="#b45a0c" stroke-width="1.1"/>
<circle cx="154.17" cy="415.04" r="2.55" fill="none" stroke="#b45a0c" stroke-width="1.1"/>
<circle cx="158.69" cy="413.14" r="2.55" fill="none" stroke="#b45a0c" stroke-width="1.1"/>
<circle cx="163.22" cy="409.36" r="2.55" fill="none" stroke="#b45a0c" stroke-width="1.1"/>
<circle cx="167.75" cy="408.76" r="2.55" fill="none" stroke="#b45a0c" stroke-width="1.1"/>
<circle cx="172.28" cy="407.48" r="2.55" fill="none" stroke="#b45a0c" stroke-width="1.1"/>
<circle cx="176.81" cy="403.74" r="2.55" fill="none" stroke="#b45a0c" stroke-width="1.1"/>
<circle cx="181.33" cy="403.09" r="2.55" fill="none" stroke="#b45a0c" stroke-width="1.1"/>
<circle cx="185.86" cy="401.06" r="2.55" fill="none" stroke="#b45a0c" stroke-width="1.1"/>
<circle cx="190.39" cy="398.82" r="2.55" fill="none" stroke="#b45a0c" stroke-width="1.1"/>
<circle cx="194.92" cy="396.63" r="2.55" fill="none" stroke="#b45a0c" stroke-width="1.1"/>
<circle cx="199.44" cy="394.92" r="2.55" fill="none" stroke="#b45a0c" stroke-width="1.1"/>
<circle cx="203.97" cy="393.66" r="2.55" fill="none" stroke="#b45a0c" stroke-width="1.1"/>
<circle cx="208.50" cy="392.66" r="2.55" fill="none" stroke="#b45a0c" stroke-width="1.1"/>
<circle cx="213.03" cy="385.45" r="2.55" fill="none" stroke="#b45a0c" stroke-width="1.1"/>
<circle cx="217.56" cy="386.22" r="2.55" fill="none" stroke="#b45a0c" stroke-width="1.1"/>
<circle cx="222.08" cy="380.43" r="2.55" fill="none" stroke="#b45a0c" stroke-width="1.1"/>
<circle cx="226.61" cy="378.65" r="2.55" fill="none" stroke="#b45a0c" stroke-width="1.1"/>
<circle cx="231.14" cy="371.17" r="2.55" fill="none" stroke="#b45a0c" stroke-width="1.1"/>
<circle cx="235.67" cy="366.64" r="2.55" fill="none" stroke="#b45a0c" stroke-width="1.1"/>
<circle cx="240.19" cy="363.57" r="2.55" fill="none" stroke="#b45a0c" stroke-width="1.1"/>
<circle cx="244.72" cy="356.75" r="2.55" fill="none" stroke="#b45a0c" stroke-width="1.1"/>
<circle cx="249.25" cy="357.57" r="2.55" fill="none" stroke="#b45a0c" stroke-width="1.1"/>
<circle cx="253.78" cy="352.63" r="2.55" fill="none" stroke="#b45a0c" stroke-width="1.1"/>
<circle cx="258.31" cy="354.48" r="2.55" fill="none" stroke="#b45a0c" stroke-width="1.1"/>
<circle cx="262.83" cy="349.70" r="2.55" fill="none" stroke="#b45a0c" stroke-width="1.1"/>
<circle cx="267.36" cy="347.02" r="2.55" fill="none" stroke="#b45a0c" stroke-width="1.1"/>
<circle cx="271.89" cy="340.69" r="2.55" fill="none" stroke="#b45a0c" stroke-width="1.1"/>
<circle cx="276.42" cy="343.00" r="2.55" fill="none" stroke="#b45a0c" stroke-width="1.1"/>
<circle cx="280.94" cy="335.26" r="2.55" fill="none" stroke="#b45a0c" stroke-width="1.1"/>
<circle cx="285.47" cy="328.00" r="2.55" fill="none" stroke="#b45a0c" stroke-width="1.1"/>
<circle cx="290.00" cy="326.40" r="2.55" fill="none" stroke="#b45a0c" stroke-width="1.1"/>
<circle cx="294.53" cy="324.30" r="2.55" fill="none" stroke="#b45a0c" stroke-width="1.1"/>
<g clip-path="url(#cr)"><polyline points="50.03,403.37 54.56,396.20 59.08,391.11 63.61,391.43 68.14,393.66 72.67,396.11 77.19,398.11 81.72,398.11 86.25,396.89 90.78,395.00 95.31,395.00 99.83,393.74 104.36,395.60 108.89,396.29 113.42,396.89 117.94,397.50 122.47,398.73 127.00,399.35 131.53,399.35 136.06,398.73 140.58,398.73 145.11,399.98 149.64,399.98 154.17,399.35 158.69,397.15 163.22,396.63 167.75,397.15 172.28,397.50 176.81,398.73 181.33,399.98 185.86,400.61 190.39,400.61 194.92,403.09 199.44,406.89 203.97,408.16 208.50,408.76 213.03,408.76 217.56,409.36 222.08,409.96 226.61,408.76 231.14,409.36 235.67,409.96 240.19,409.76 244.72,413.77 249.25,413.77 253.78,417.97 258.31,423.55 262.83,424.14 267.36,431.68 271.89,425.93 276.42,430.40 280.94,435.51 285.47,433.51 290.00,429.89 294.53,434.84 299.06,439.94 303.58,438.67 308.11,451.13 312.64,451.13 317.17,443.56 323.96,448.58 333.01,463.59 342.07,463.04 351.12,469.17 360.18,472.40" fill="none" stroke="#389615" stroke-width="1" stroke-dasharray="2.4 1.9"/></g>
<rect x="47.33" y="400.67" width="5.40" height="5.40" fill="none" stroke="#389615" stroke-width="1.15"/>
<rect x="51.86" y="393.50" width="5.40" height="5.40" fill="none" stroke="#389615" stroke-width="1.15"/>
<rect x="56.38" y="388.41" width="5.40" height="5.40" fill="none" stroke="#389615" stroke-width="1.15"/>
<rect x="60.91" y="388.73" width="5.40" height="5.40" fill="none" stroke="#389615" stroke-width="1.15"/>
<rect x="65.44" y="390.96" width="5.40" height="5.40" fill="none" stroke="#389615" stroke-width="1.15"/>
<rect x="69.97" y="393.41" width="5.40" height="5.40" fill="none" stroke="#389615" stroke-width="1.15"/>
<rect x="74.49" y="395.41" width="5.40" height="5.40" fill="none" stroke="#389615" stroke-width="1.15"/>
<rect x="79.02" y="395.41" width="5.40" height="5.40" fill="none" stroke="#389615" stroke-width="1.15"/>
<rect x="83.55" y="394.19" width="5.40" height="5.40" fill="none" stroke="#389615" stroke-width="1.15"/>
<rect x="88.08" y="392.30" width="5.40" height="5.40" fill="none" stroke="#389615" stroke-width="1.15"/>
<rect x="92.61" y="392.30" width="5.40" height="5.40" fill="none" stroke="#389615" stroke-width="1.15"/>
<rect x="97.13" y="391.04" width="5.40" height="5.40" fill="none" stroke="#389615" stroke-width="1.15"/>
<rect x="101.66" y="392.90" width="5.40" height="5.40" fill="none" stroke="#389615" stroke-width="1.15"/>
<rect x="106.19" y="393.59" width="5.40" height="5.40" fill="none" stroke="#389615" stroke-width="1.15"/>
<rect x="110.72" y="394.19" width="5.40" height="5.40" fill="none" stroke="#389615" stroke-width="1.15"/>
<rect x="115.24" y="394.80" width="5.40" height="5.40" fill="none" stroke="#389615" stroke-width="1.15"/>
<rect x="119.77" y="396.03" width="5.40" height="5.40" fill="none" stroke="#389615" stroke-width="1.15"/>
<rect x="124.30" y="396.65" width="5.40" height="5.40" fill="none" stroke="#389615" stroke-width="1.15"/>
<rect x="128.83" y="396.65" width="5.40" height="5.40" fill="none" stroke="#389615" stroke-width="1.15"/>
<rect x="133.36" y="396.03" width="5.40" height="5.40" fill="none" stroke="#389615" stroke-width="1.15"/>
<rect x="137.88" y="396.03" width="5.40" height="5.40" fill="none" stroke="#389615" stroke-width="1.15"/>
<rect x="142.41" y="397.28" width="5.40" height="5.40" fill="none" stroke="#389615" stroke-width="1.15"/>
<rect x="146.94" y="397.28" width="5.40" height="5.40" fill="none" stroke="#389615" stroke-width="1.15"/>
<rect x="151.47" y="396.65" width="5.40" height="5.40" fill="none" stroke="#389615" stroke-width="1.15"/>
<rect x="155.99" y="394.45" width="5.40" height="5.40" fill="none" stroke="#389615" stroke-width="1.15"/>
<rect x="160.52" y="393.93" width="5.40" height="5.40" fill="none" stroke="#389615" stroke-width="1.15"/>
<rect x="165.05" y="394.45" width="5.40" height="5.40" fill="none" stroke="#389615" stroke-width="1.15"/>
<rect x="169.58" y="394.80" width="5.40" height="5.40" fill="none" stroke="#389615" stroke-width="1.15"/>
<rect x="174.11" y="396.03" width="5.40" height="5.40" fill="none" stroke="#389615" stroke-width="1.15"/>
<rect x="178.63" y="397.28" width="5.40" height="5.40" fill="none" stroke="#389615" stroke-width="1.15"/>
<rect x="183.16" y="397.91" width="5.40" height="5.40" fill="none" stroke="#389615" stroke-width="1.15"/>
<rect x="187.69" y="397.91" width="5.40" height="5.40" fill="none" stroke="#389615" stroke-width="1.15"/>
<rect x="192.22" y="400.39" width="5.40" height="5.40" fill="none" stroke="#389615" stroke-width="1.15"/>
<rect x="196.74" y="404.19" width="5.40" height="5.40" fill="none" stroke="#389615" stroke-width="1.15"/>
<rect x="201.27" y="405.46" width="5.40" height="5.40" fill="none" stroke="#389615" stroke-width="1.15"/>
<rect x="205.80" y="406.06" width="5.40" height="5.40" fill="none" stroke="#389615" stroke-width="1.15"/>
<rect x="210.33" y="406.06" width="5.40" height="5.40" fill="none" stroke="#389615" stroke-width="1.15"/>
<rect x="214.86" y="406.66" width="5.40" height="5.40" fill="none" stroke="#389615" stroke-width="1.15"/>
<rect x="219.38" y="407.26" width="5.40" height="5.40" fill="none" stroke="#389615" stroke-width="1.15"/>
<rect x="223.91" y="406.06" width="5.40" height="5.40" fill="none" stroke="#389615" stroke-width="1.15"/>
<rect x="228.44" y="406.66" width="5.40" height="5.40" fill="none" stroke="#389615" stroke-width="1.15"/>
<rect x="232.97" y="407.26" width="5.40" height="5.40" fill="none" stroke="#389615" stroke-width="1.15"/>
<rect x="237.49" y="407.06" width="5.40" height="5.40" fill="none" stroke="#389615" stroke-width="1.15"/>
<rect x="242.02" y="411.07" width="5.40" height="5.40" fill="none" stroke="#389615" stroke-width="1.15"/>
<rect x="246.55" y="411.07" width="5.40" height="5.40" fill="none" stroke="#389615" stroke-width="1.15"/>
<rect x="251.08" y="415.27" width="5.40" height="5.40" fill="none" stroke="#389615" stroke-width="1.15"/>
<rect x="255.61" y="420.85" width="5.40" height="5.40" fill="none" stroke="#389615" stroke-width="1.15"/>
<rect x="260.13" y="421.44" width="5.40" height="5.40" fill="none" stroke="#389615" stroke-width="1.15"/>
<rect x="264.66" y="428.98" width="5.40" height="5.40" fill="none" stroke="#389615" stroke-width="1.15"/>
<rect x="269.19" y="423.23" width="5.40" height="5.40" fill="none" stroke="#389615" stroke-width="1.15"/>
<rect x="273.72" y="427.70" width="5.40" height="5.40" fill="none" stroke="#389615" stroke-width="1.15"/>
<rect x="278.24" y="432.81" width="5.40" height="5.40" fill="none" stroke="#389615" stroke-width="1.15"/>
<rect x="282.77" y="430.81" width="5.40" height="5.40" fill="none" stroke="#389615" stroke-width="1.15"/>
<rect x="287.30" y="427.19" width="5.40" height="5.40" fill="none" stroke="#389615" stroke-width="1.15"/>
<rect x="291.83" y="432.14" width="5.40" height="5.40" fill="none" stroke="#389615" stroke-width="1.15"/>
<rect x="296.36" y="437.24" width="5.40" height="5.40" fill="none" stroke="#389615" stroke-width="1.15"/>
<rect x="300.88" y="435.97" width="5.40" height="5.40" fill="none" stroke="#389615" stroke-width="1.15"/>
<path d="M308.11,448.50 V453.75 M306.61,448.50 H309.61 M306.61,453.75 H309.61" stroke="#389615" stroke-width="1" fill="none"/>
<rect x="305.41" y="448.43" width="5.40" height="5.40" fill="none" stroke="#389615" stroke-width="1.15"/>
<path d="M312.64,448.31 V453.94 M311.14,448.31 H314.14 M311.14,453.94 H314.14" stroke="#389615" stroke-width="1" fill="none"/>
<rect x="309.94" y="448.43" width="5.40" height="5.40" fill="none" stroke="#389615" stroke-width="1.15"/>
<path d="M317.17,440.55 V446.57 M315.67,440.55 H318.67 M315.67,446.57 H318.67" stroke="#389615" stroke-width="1" fill="none"/>
<rect x="314.47" y="440.86" width="5.40" height="5.40" fill="none" stroke="#389615" stroke-width="1.15"/>
<path d="M323.96,445.26 V451.90 M322.46,445.26 H325.46 M322.46,451.90 H325.46" stroke="#389615" stroke-width="1" fill="none"/>
<rect x="321.26" y="445.88" width="5.40" height="5.40" fill="none" stroke="#389615" stroke-width="1.15"/>
<path d="M333.01,459.84 V467.35 M331.51,459.84 H334.51 M331.51,467.35 H334.51" stroke="#389615" stroke-width="1" fill="none"/>
<rect x="330.31" y="460.89" width="5.40" height="5.40" fill="none" stroke="#389615" stroke-width="1.15"/>
<path d="M342.07,458.82 V467.25 M340.57,458.82 H343.57 M340.57,467.25 H343.57" stroke="#389615" stroke-width="1" fill="none"/>
<rect x="339.37" y="460.34" width="5.40" height="5.40" fill="none" stroke="#389615" stroke-width="1.15"/>
<path d="M351.12,464.47 V473.86 M349.62,464.47 H352.62 M349.62,473.86 H352.62" stroke="#389615" stroke-width="1" fill="none"/>
<rect x="348.43" y="466.47" width="5.40" height="5.40" fill="none" stroke="#389615" stroke-width="1.15"/>
<path d="M360.18,467.20 V477.60 M358.68,467.20 H361.68 M358.68,477.60 H361.68" stroke="#389615" stroke-width="1" fill="none"/>
<rect x="357.48" y="469.70" width="5.40" height="5.40" fill="none" stroke="#389615" stroke-width="1.15"/>
<g clip-path="url(#cr)"><polyline points="50.03,423.08 54.56,410.67 59.08,397.50 63.61,382.32 68.14,381.73 72.67,385.45 77.19,389.66 81.72,393.74 86.25,396.89 90.78,398.73 95.31,399.98 99.83,400.61 104.36,401.89 108.89,403.74 113.42,404.40 117.94,403.74 122.47,404.40 127.00,404.97 131.53,404.97 136.06,404.40 140.58,403.74 145.11,404.40 149.64,403.09 154.17,401.89 158.69,401.25 163.22,398.73 167.75,396.89 172.28,395.60 176.81,395.00 181.33,394.50 185.86,394.50 190.39,396.11 194.92,396.46 199.44,396.11 203.97,399.35 208.50,399.35 213.03,396.89 217.56,398.82 222.08,395.77 226.61,395.43 231.14,393.57 235.67,392.41 240.19,391.84 244.72,395.77 249.25,398.29 253.78,399.53 258.31,402.25 262.83,404.78 267.36,409.46 271.89,406.02 276.42,414.08 280.94,416.65 285.47,412.93 290.00,421.23 294.53,415.36 299.06,416.00 303.58,419.75 308.11,423.20 312.64,438.53 317.17,427.64 323.96,424.85 333.01,442.97 342.07,444.30 351.12,459.24 360.18,464.34" fill="none" stroke="#0000ff" stroke-width="1.1"/></g>
<path d="M50.03,420.02 L52.93,426.03 L47.13,426.03 Z" fill="#0000ff"/>
<path d="M54.56,407.61 L57.46,413.62 L51.66,413.62 Z" fill="#0000ff"/>
<path d="M59.08,394.44 L61.98,400.45 L56.18,400.45 Z" fill="#0000ff"/>
<path d="M63.61,379.26 L66.51,385.27 L60.71,385.27 Z" fill="#0000ff"/>
<path d="M68.14,378.68 L71.04,384.69 L65.24,384.69 Z" fill="#0000ff"/>
<path d="M72.67,382.40 L75.57,388.41 L69.77,388.41 Z" fill="#0000ff"/>
<path d="M77.19,386.60 L80.09,392.61 L74.29,392.61 Z" fill="#0000ff"/>
<path d="M81.72,390.69 L84.62,396.70 L78.82,396.70 Z" fill="#0000ff"/>
<path d="M86.25,393.84 L89.15,399.85 L83.35,399.85 Z" fill="#0000ff"/>
<path d="M90.78,395.68 L93.68,401.69 L87.88,401.69 Z" fill="#0000ff"/>
<path d="M95.31,396.92 L98.21,402.93 L92.41,402.93 Z" fill="#0000ff"/>
<path d="M99.83,397.56 L102.73,403.57 L96.93,403.57 Z" fill="#0000ff"/>
<path d="M104.36,398.83 L107.26,404.84 L101.46,404.84 Z" fill="#0000ff"/>
<path d="M108.89,400.69 L111.79,406.70 L105.99,406.70 Z" fill="#0000ff"/>
<path d="M113.42,401.34 L116.32,407.35 L110.52,407.35 Z" fill="#0000ff"/>
<path d="M117.94,400.69 L120.84,406.70 L115.04,406.70 Z" fill="#0000ff"/>
<path d="M122.47,401.34 L125.37,407.35 L119.57,407.35 Z" fill="#0000ff"/>
<path d="M127.00,401.91 L129.90,407.92 L124.10,407.92 Z" fill="#0000ff"/>
<path d="M131.53,401.91 L134.43,407.92 L128.63,407.92 Z" fill="#0000ff"/>
<path d="M136.06,401.34 L138.96,407.35 L133.16,407.35 Z" fill="#0000ff"/>
<path d="M140.58,400.69 L143.48,406.70 L137.68,406.70 Z" fill="#0000ff"/>
<path d="M145.11,401.34 L148.01,407.35 L142.21,407.35 Z" fill="#0000ff"/>
<path d="M149.64,400.03 L152.54,406.04 L146.74,406.04 Z" fill="#0000ff"/>
<path d="M154.17,398.83 L157.07,404.84 L151.27,404.84 Z" fill="#0000ff"/>
<path d="M158.69,398.19 L161.59,404.20 L155.79,404.20 Z" fill="#0000ff"/>
<path d="M163.22,395.68 L166.12,401.69 L160.32,401.69 Z" fill="#0000ff"/>
<path d="M167.75,393.84 L170.65,399.85 L164.85,399.85 Z" fill="#0000ff"/>
<path d="M172.28,392.55 L175.18,398.56 L169.38,398.56 Z" fill="#0000ff"/>
<path d="M176.81,391.95 L179.71,397.96 L173.91,397.96 Z" fill="#0000ff"/>
<path d="M181.33,391.44 L184.23,397.45 L178.43,397.45 Z" fill="#0000ff"/>
<path d="M185.86,391.44 L188.76,397.45 L182.96,397.45 Z" fill="#0000ff"/>
<path d="M190.39,393.06 L193.29,399.07 L187.49,399.07 Z" fill="#0000ff"/>
<path d="M194.92,393.40 L197.82,399.41 L192.02,399.41 Z" fill="#0000ff"/>
<path d="M199.44,393.06 L202.34,399.07 L196.54,399.07 Z" fill="#0000ff"/>
<path d="M203.97,396.30 L206.87,402.31 L201.07,402.31 Z" fill="#0000ff"/>
<path d="M208.50,396.30 L211.40,402.31 L205.60,402.31 Z" fill="#0000ff"/>
<path d="M213.03,393.84 L215.93,399.85 L210.13,399.85 Z" fill="#0000ff"/>
<path d="M217.56,395.76 L220.46,401.77 L214.66,401.77 Z" fill="#0000ff"/>
<path d="M222.08,392.72 L224.98,398.73 L219.18,398.73 Z" fill="#0000ff"/>
<path d="M226.61,392.37 L229.51,398.38 L223.71,398.38 Z" fill="#0000ff"/>
<path d="M231.14,390.52 L234.04,396.53 L228.24,396.53 Z" fill="#0000ff"/>
<path d="M235.67,389.36 L238.57,395.37 L232.77,395.37 Z" fill="#0000ff"/>
<path d="M240.19,388.78 L243.09,394.79 L237.29,394.79 Z" fill="#0000ff"/>
<path d="M244.72,392.72 L247.62,398.73 L241.82,398.73 Z" fill="#0000ff"/>
<path d="M249.25,395.23 L252.15,401.24 L246.35,401.24 Z" fill="#0000ff"/>
<path d="M253.78,396.48 L256.68,402.49 L250.88,402.49 Z" fill="#0000ff"/>
<path d="M258.31,399.20 L261.21,405.21 L255.41,405.21 Z" fill="#0000ff"/>
<path d="M262.83,401.72 L265.73,407.73 L259.93,407.73 Z" fill="#0000ff"/>
<path d="M267.36,406.40 L270.26,412.41 L264.46,412.41 Z" fill="#0000ff"/>
<path d="M271.89,402.97 L274.79,408.98 L268.99,408.98 Z" fill="#0000ff"/>
<path d="M276.42,411.03 L279.32,417.04 L273.52,417.04 Z" fill="#0000ff"/>
<path d="M280.94,413.60 L283.84,419.61 L278.04,419.61 Z" fill="#0000ff"/>
<path d="M285.47,409.87 L288.37,415.88 L282.57,415.88 Z" fill="#0000ff"/>
<path d="M290.00,418.17 L292.90,424.18 L287.10,424.18 Z" fill="#0000ff"/>
<path d="M294.53,412.30 L297.43,418.31 L291.63,418.31 Z" fill="#0000ff"/>
<path d="M299.06,412.95 L301.96,418.96 L296.16,418.96 Z" fill="#0000ff"/>
<path d="M303.58,416.70 L306.48,422.71 L300.68,422.71 Z" fill="#0000ff"/>
<path d="M308.11,420.57 V425.82 M306.61,420.57 H309.61 M306.61,425.82 H309.61" stroke="#0000ff" stroke-width="1" fill="none"/>
<path d="M308.11,420.14 L311.01,426.15 L305.21,426.15 Z" fill="#0000ff"/>
<path d="M312.64,435.71 V441.34 M311.14,435.71 H314.14 M311.14,441.34 H314.14" stroke="#0000ff" stroke-width="1" fill="none"/>
<path d="M312.64,435.47 L315.54,441.48 L309.74,441.48 Z" fill="#0000ff"/>
<path d="M317.17,424.63 V430.66 M315.67,424.63 H318.67 M315.67,430.66 H318.67" stroke="#0000ff" stroke-width="1" fill="none"/>
<path d="M317.17,424.59 L320.07,430.60 L314.27,430.60 Z" fill="#0000ff"/>
<path d="M323.96,421.53 V428.17 M322.46,421.53 H325.46 M322.46,428.17 H325.46" stroke="#0000ff" stroke-width="1" fill="none"/>
<path d="M323.96,421.80 L326.86,427.81 L321.06,427.81 Z" fill="#0000ff"/>
<path d="M333.01,439.21 V446.72 M331.51,439.21 H334.51 M331.51,446.72 H334.51" stroke="#0000ff" stroke-width="1" fill="none"/>
<path d="M333.01,439.91 L335.91,445.92 L330.11,445.92 Z" fill="#0000ff"/>
<path d="M342.07,440.09 V448.52 M340.57,440.09 H343.57 M340.57,448.52 H343.57" stroke="#0000ff" stroke-width="1" fill="none"/>
<path d="M342.07,441.25 L344.97,447.26 L339.17,447.26 Z" fill="#0000ff"/>
<path d="M351.12,454.54 V463.93 M349.62,454.54 H352.62 M349.62,463.93 H352.62" stroke="#0000ff" stroke-width="1" fill="none"/>
<path d="M351.12,456.18 L354.02,462.19 L348.23,462.19 Z" fill="#0000ff"/>
<path d="M360.18,459.14 V469.54 M358.68,459.14 H361.68 M358.68,469.54 H361.68" stroke="#0000ff" stroke-width="1" fill="none"/>
<path d="M360.18,461.29 L363.08,467.30 L357.28,467.30 Z" fill="#0000ff"/>
<g clip-path="url(#cr)"><polyline points="50.03,475.54 54.56,432.98 59.08,393.66 63.61,366.71 68.14,348.15 72.67,337.83 77.19,332.57 81.72,333.86 86.25,340.88 90.78,352.21 95.31,368.57 99.83,388.55 104.36,410.56 108.89,435.91 113.42,459.77 117.94,480.48 122.47,501.35 127.00,518.86 131.53,533.40 136.06,544.54 140.58,552.69 145.11,556.98 149.64,561.25 154.17,564.63 158.69,565.40 163.22,572.95 167.75,572.75 172.28,573.76 176.81,574.26 181.33,575.54 185.86,576.73 190.39,570.56 194.92,574.56 199.44,575.03 203.97,573.70 208.50,573.55 213.03,576.08 217.56,569.95 222.08,575.05 226.61,573.21 231.14,572.55 235.67,576.07 240.19,575.22 244.72,575.13 249.25,571.09 253.78,570.39 258.31,571.31 262.83,570.44 267.36,571.62 271.89,562.95 276.42,568.38 280.94,570.14 285.47,567.17 290.00,574.42 294.53,564.32 299.06,575.79 303.58,561.57 308.11,565.93 312.64,576.89 317.17,565.58 323.96,559.90 333.01,572.63 342.07,567.93 351.12,570.18 360.18,562.69" fill="none" stroke="#ff0000" stroke-width="1" stroke-dasharray="1.2 1"/></g>
<path d="M50.03,472.34 L52.23,475.54 L50.03,478.74 L47.83,475.54 Z" fill="#ff0000"/>
<path d="M54.56,429.78 L56.76,432.98 L54.56,436.18 L52.36,432.98 Z" fill="#ff0000"/>
<path d="M59.08,390.46 L61.28,393.66 L59.08,396.86 L56.88,393.66 Z" fill="#ff0000"/>
<path d="M63.61,363.51 L65.81,366.71 L63.61,369.91 L61.41,366.71 Z" fill="#ff0000"/>
<path d="M68.14,344.95 L70.34,348.15 L68.14,351.35 L65.94,348.15 Z" fill="#ff0000"/>
<path d="M72.67,334.63 L74.87,337.83 L72.67,341.03 L70.47,337.83 Z" fill="#ff0000"/>
<path d="M77.19,329.37 L79.39,332.57 L77.19,335.77 L74.99,332.57 Z" fill="#ff0000"/>
<path d="M81.72,330.66 L83.92,333.86 L81.72,337.06 L79.52,333.86 Z" fill="#ff0000"/>
<path d="M86.25,337.68 L88.45,340.88 L86.25,344.08 L84.05,340.88 Z" fill="#ff0000"/>
<path d="M90.78,349.01 L92.98,352.21 L90.78,355.41 L88.58,352.21 Z" fill="#ff0000"/>
<path d="M95.31,365.37 L97.51,368.57 L95.31,371.77 L93.11,368.57 Z" fill="#ff0000"/>
<path d="M99.83,385.35 L102.03,388.55 L99.83,391.75 L97.63,388.55 Z" fill="#ff0000"/>
<path d="M104.36,407.36 L106.56,410.56 L104.36,413.76 L102.16,410.56 Z" fill="#ff0000"/>
<path d="M108.89,432.71 L111.09,435.91 L108.89,439.11 L106.69,435.91 Z" fill="#ff0000"/>
<path d="M113.42,456.57 L115.62,459.77 L113.42,462.97 L111.22,459.77 Z" fill="#ff0000"/>
<rect x="73.70" y="221.30" width="5.40" height="5.40" fill="#000"/>
<line x1="64.0" y1="236.9" x2="88.5" y2="236.9" stroke="#b45a0c" stroke-width="0.9" stroke-opacity="0.8" stroke-dasharray="2.7 1.9"/>
<circle cx="76.40" cy="236.90" r="2.55" fill="none" stroke="#b45a0c" stroke-width="0.95"/>
<line x1="64.0" y1="249.8" x2="88.5" y2="249.8" stroke="#389615" stroke-width="0.9" stroke-opacity="0.8" stroke-dasharray="2.7 1.9"/>
<rect x="73.70" y="247.10" width="5.40" height="5.40" fill="none" stroke="#389615" stroke-width="0.95"/>
<line x1="64.0" y1="262.9" x2="88.5" y2="262.9" stroke="#0000ff" stroke-width="1" stroke-opacity="0.8"/>
<path d="M76.40,259.84 L79.30,265.85 L73.50,265.85 Z" fill="#0000ff"/>
<line x1="64.0" y1="275.8" x2="88.5" y2="275.8" stroke="#ff0000" stroke-width="1" stroke-dasharray="1.2 1"/>
<path d="M76.40,272.60 L78.60,275.80 L76.40,279.00 L74.20,275.80 Z" fill="#ff0000"/>
<text transform="translate(94.6,227.6) scale(1.0,1)" x="0" y="0" font-size="10" fill="#000">ALICE</text>
<text transform="translate(94.6,240.5) scale(0.948,1)" x="0" y="0" font-size="10" fill="#000">Herwig++ 2.7.1 default</text>
<text transform="translate(94.6,253.4) scale(0.948,1)" x="0" y="0" font-size="10" fill="#000">Herwig 7.2.1 default</text>
<text transform="translate(94.6,266.5) scale(0.948,1)" x="0" y="0" font-size="10" fill="#000">Pythia 8.308 default</text>
<text transform="translate(94.6,279.4) scale(0.948,1)" x="0" y="0" font-size="10" fill="#000">Sherpa 2.2.9 default</text>

<text x="51.3" y="13.6" font-size="12" fill="#000">7000 GeV pp</text>
<text x="366.5" y="13.6" font-size="12" fill="#000" text-anchor="end">Soft QCD</text>
<text x="103.8" y="42.3" font-size="12" fill="#000">Charged multiplicity</text>
<text x="209.8" y="42.3" font-size="10" fill="#000">(N</text>
<text x="219.4" y="48.6" font-size="7.4" fill="#000">ch</text>
<text x="229.5" y="42.3" font-size="10" fill="#000">&gt; 0, |η| &lt; 1.0, all p</text>
<text x="306.0" y="48.3" font-size="7" fill="#000">T</text>
<text x="311.5" y="42.3" font-size="10" fill="#000">)</text>
<g transform="translate(15.5,59.2) rotate(-90)"><text x="0" y="0" font-size="12" fill="#000">dN/dN</text></g>
<g transform="translate(19.6,25.6) rotate(-90)"><text x="0" y="0" font-size="7.5" fill="#000">ch</text></g>
<g transform="translate(381.2,131.4) rotate(-90)"><text x="0" y="0" font-size="9.55" fill="#6a6a6a">Rivet 3.1.10, ≥ 2.5M events</text></g>
<g transform="translate(381.4,313.6) rotate(-90)"><text x="0" y="0" font-size="9.52" fill="#6a6a6a">mcplots.cern.ch [arXiv:1306.3436]</text></g>
<text x="166" y="302.5" font-size="7.8" fill="#999">ALICE_2010_S8625980</text>
<g transform="translate(19.0,426.2) rotate(-90)"><text x="0" y="0" font-size="9.25" fill="#000">Ratio to ALICE</text></g>
<text x="41.5" y="57.2" font-size="11.5" fill="#000" text-anchor="end">1</text>

<text x="39.2" y="341.2" font-size="12" fill="#000" text-anchor="end">2</text>
<text x="39.2" y="401.8" font-size="12" fill="#000" text-anchor="end">1</text>
<text x="39.2" y="462.2" font-size="12" fill="#000" text-anchor="end">0.5</text>
<text x="373.5" y="462.2" font-size="12" fill="#000">0.5</text>
<text x="45.8" y="489" font-size="12" fill="#000" text-anchor="middle">0</text>
<text x="136.6" y="489" font-size="12" fill="#000" text-anchor="middle">20</text>
<text x="227.2" y="489" font-size="12" fill="#000" text-anchor="middle">40</text>
<text x="317.8" y="489" font-size="12" fill="#000" text-anchor="middle">60</text>
<text x="354.2" y="502.7" font-size="12" fill="#000">N</text>
<text x="362.8" y="506.3" font-size="8" fill="#000">ch</text>
<text x="21.0" y="105.1" font-size="11" fill="#000">10</text><text x="33.0" y="99.9" font-size="7" fill="#000">−1</text>
<text x="19.0" y="152.1" font-size="11" fill="#000">10</text><text x="31.0" y="146.9" font-size="7" fill="#000">−2</text>
<text x="19.0" y="199.1" font-size="11" fill="#000">10</text><text x="31.0" y="193.9" font-size="7" fill="#000">−3</text>
<text x="19.0" y="246.1" font-size="11" fill="#000">10</text><text x="31.0" y="240.9" font-size="7" fill="#000">−4</text>
<text x="19.0" y="293.1" font-size="11" fill="#000">10</text><text x="31.0" y="287.9" font-size="7" fill="#000">−5</text>

</svg>
</body></html>
